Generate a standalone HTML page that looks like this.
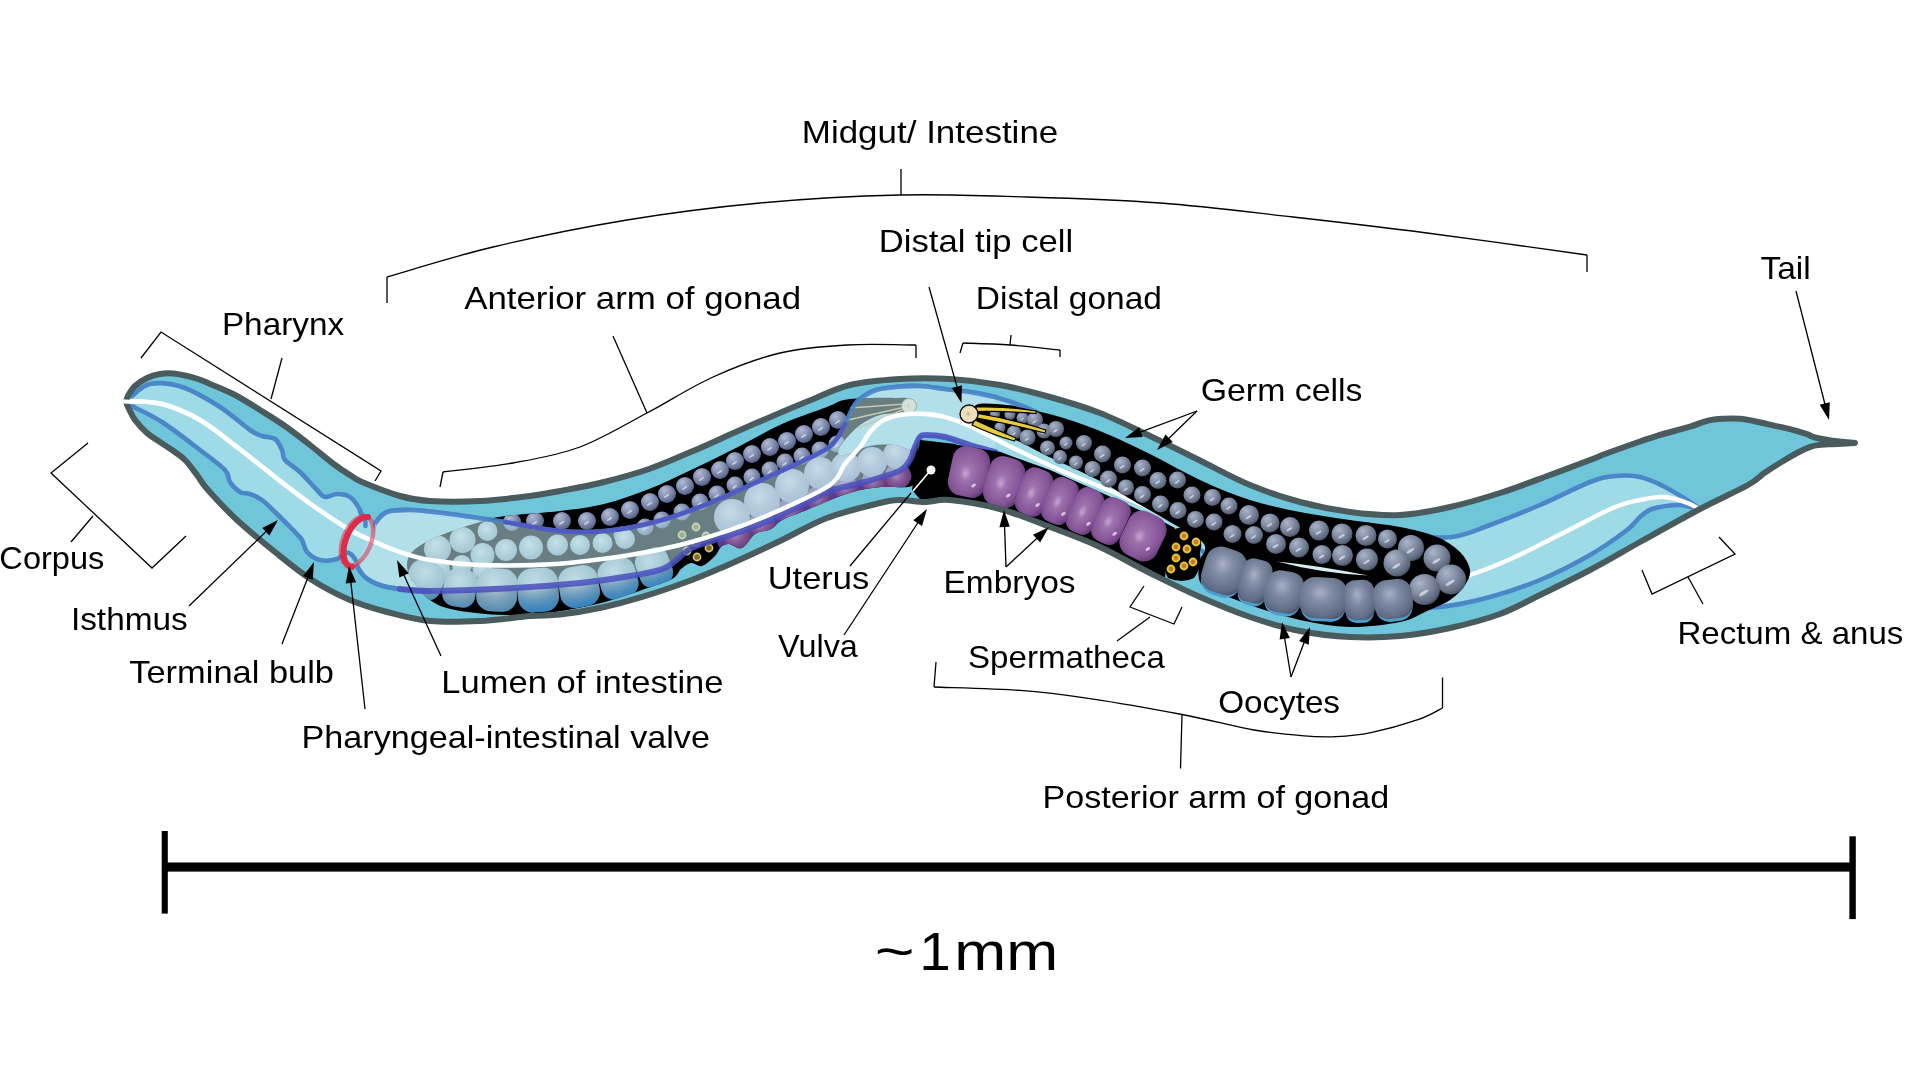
<!DOCTYPE html>
<html><head><meta charset="utf-8"><title>C. elegans anatomy</title>
<style>
html,body{margin:0;padding:0;background:#fff;}
body{width:1920px;height:1080px;overflow:hidden;}
svg{display:block;filter:blur(0.45px);}
text{font-family:"Liberation Sans",sans-serif;fill:#000;}
</style></head><body>
<svg width="1920" height="1080" viewBox="0 0 1920 1080">
<defs>
<radialGradient id="gGerm" cx="0.4" cy="0.36" r="0.72" fx="0.34" fy="0.28">
<stop offset="0" stop-color="#aab5ca"/><stop offset="0.45" stop-color="#828ea6"/><stop offset="0.8" stop-color="#5f6a7e"/><stop offset="1" stop-color="#3c4556"/></radialGradient>
<radialGradient id="gGermA" cx="0.4" cy="0.36" r="0.72" fx="0.34" fy="0.28">
<stop offset="0" stop-color="#b2bcd6"/><stop offset="0.45" stop-color="#8894b6"/><stop offset="0.8" stop-color="#626e92"/><stop offset="1" stop-color="#3c4664"/></radialGradient>
<radialGradient id="gOoP" cx="0.45" cy="0.4" r="0.7" fx="0.42" fy="0.36">
<stop offset="0" stop-color="#a7b1c6"/><stop offset="0.35" stop-color="#7f8aa3"/><stop offset="0.8" stop-color="#616c86"/><stop offset="1" stop-color="#454e66"/></radialGradient>
<radialGradient id="gOoA" cx="0.45" cy="0.4" r="0.7" fx="0.42" fy="0.36">
<stop offset="0" stop-color="#cfdde3"/><stop offset="0.4" stop-color="#a9c0cb"/><stop offset="0.85" stop-color="#86a1b0"/><stop offset="1" stop-color="#6b8796"/></radialGradient>
<linearGradient id="gBlueBot" x1="0" y1="0" x2="0" y2="1">
<stop offset="0.45" stop-color="#2f86c4" stop-opacity="0"/><stop offset="1" stop-color="#2a80c2" stop-opacity="0.85"/></linearGradient>
<radialGradient id="gOoA2" cx="0.45" cy="0.35" r="0.75" fx="0.42" fy="0.3">
<stop offset="0" stop-color="#c2d2dc"/><stop offset="0.4" stop-color="#9ab3c2"/><stop offset="0.85" stop-color="#6f94ad"/><stop offset="1" stop-color="#4f86ab"/></radialGradient>
<radialGradient id="gLil" cx="0.45" cy="0.4" r="0.7" fx="0.42" fy="0.36">
<stop offset="0" stop-color="#ccd0e4"/><stop offset="0.45" stop-color="#a9aecb"/><stop offset="0.85" stop-color="#8f93b8"/><stop offset="1" stop-color="#7a7ca6"/></radialGradient>
<radialGradient id="gEmb" cx="0.45" cy="0.45" r="0.7" fx="0.42" fy="0.55">
<stop offset="0" stop-color="#c7a5d2"/><stop offset="0.22" stop-color="#9d72ac"/><stop offset="0.7" stop-color="#835397"/><stop offset="1" stop-color="#57306a"/></radialGradient>
<radialGradient id="gEmbA" cx="0.45" cy="0.45" r="0.7" fx="0.42" fy="0.5">
<stop offset="0" stop-color="#a886b8"/><stop offset="0.4" stop-color="#855a98"/><stop offset="1" stop-color="#5a2f6c"/></radialGradient>
<radialGradient id="gTip" cx="0.45" cy="0.5" r="0.6">
<stop offset="0" stop-color="#c9a98a"/><stop offset="0.25" stop-color="#ecdcb9"/><stop offset="1" stop-color="#efe2c2"/></radialGradient>
<linearGradient id="gInt" x1="0" y1="0" x2="1" y2="0">
<stop offset="0" stop-color="#8fd4e3"/><stop offset="0.5" stop-color="#a6dde9"/><stop offset="1" stop-color="#8fd4e3"/></linearGradient>
<marker id="ah" viewBox="0 0 10 10" refX="9.5" refY="5" markerWidth="16" markerHeight="11" markerUnits="userSpaceOnUse" orient="auto"><path d="M0 0 L10 5 L0 10 Z" fill="#000"/></marker>
<clipPath id="bodyclip"><path d="M126.0 402.0 C126.3 401.0 126.5 398.7 128.0 396.0 C129.5 393.3 131.8 389.0 135.0 386.0 C138.2 383.0 142.8 380.0 147.0 378.0 C151.2 376.0 155.7 374.8 160.0 374.0 C164.3 373.2 168.8 373.2 173.0 373.5 C177.2 373.8 180.8 374.6 185.0 375.5 C189.2 376.4 193.8 377.6 198.0 379.0 C202.2 380.4 203.8 381.3 210.0 384.0 C216.2 386.7 226.7 390.7 235.0 395.0 C243.3 399.3 251.7 404.8 260.0 410.0 C268.3 415.2 276.7 420.2 285.0 426.0 C293.3 431.8 301.7 438.5 310.0 445.0 C318.3 451.5 328.3 460.0 335.0 465.0 C341.7 470.0 345.5 472.2 350.0 475.0 C354.5 477.8 353.7 478.5 362.0 482.0 C370.3 485.5 388.7 492.8 400.0 496.0 C411.3 499.2 416.7 500.2 430.0 501.0 C443.3 501.8 463.3 501.8 480.0 501.0 C496.7 500.2 516.7 497.7 530.0 496.0 C543.3 494.3 547.7 493.3 560.0 491.0 C572.3 488.7 589.2 485.7 604.0 482.0 C618.8 478.3 634.2 474.2 649.0 469.0 C663.8 463.8 678.2 457.3 693.0 451.0 C707.8 444.7 723.2 437.5 738.0 431.0 C752.8 424.5 769.8 417.2 782.0 412.0 C794.2 406.8 799.7 404.5 811.0 400.0 C822.3 395.5 835.2 388.5 850.0 385.0 C864.8 381.5 883.3 380.0 900.0 379.0 C916.7 378.0 933.3 378.0 950.0 379.0 C966.7 380.0 983.3 382.0 1000.0 385.0 C1016.7 388.0 1033.3 392.3 1050.0 397.0 C1066.7 401.7 1083.3 406.5 1100.0 413.0 C1116.7 419.5 1133.3 428.1 1150.0 436.0 C1166.7 443.9 1183.3 452.3 1200.0 460.5 C1216.7 468.7 1233.3 478.1 1250.0 485.0 C1266.7 491.9 1283.3 497.5 1300.0 502.0 C1316.7 506.5 1333.3 509.8 1350.0 512.0 C1366.7 514.2 1383.3 515.8 1400.0 515.0 C1416.7 514.2 1433.3 510.7 1450.0 507.0 C1466.7 503.3 1483.3 498.3 1500.0 493.0 C1516.7 487.7 1535.0 480.5 1550.0 475.0 C1565.0 469.5 1580.5 463.6 1590.0 460.0 C1599.5 456.4 1598.7 456.4 1607.0 453.3 C1615.3 450.2 1631.7 444.4 1640.0 441.5 C1648.3 438.6 1648.7 438.3 1657.0 435.8 C1665.3 433.3 1681.7 429.2 1690.0 426.7 C1698.3 424.2 1701.5 422.1 1707.0 420.8 C1712.5 419.5 1717.5 419.1 1723.0 418.8 C1728.5 418.4 1734.3 418.3 1740.0 418.8 C1745.7 419.2 1751.5 420.6 1757.0 421.7 C1762.5 422.8 1767.5 424.1 1773.0 425.4 C1778.5 426.6 1784.3 427.7 1790.0 429.2 C1795.7 430.7 1802.8 432.8 1807.0 434.2 C1811.2 435.6 1810.8 436.4 1815.0 437.5 C1819.2 438.6 1825.3 439.7 1832.0 440.6 C1838.7 441.5 1851.2 442.6 1855.0 443.0 C1851.2 443.2 1838.0 443.9 1832.0 444.2 C1826.0 444.5 1822.5 444.6 1819.0 445.0 C1815.5 445.4 1814.5 445.4 1811.0 446.7 C1807.5 447.9 1802.8 450.0 1798.0 452.5 C1793.2 455.0 1787.5 458.4 1782.0 461.7 C1776.5 465.0 1770.7 468.6 1765.0 472.5 C1759.3 476.4 1758.8 478.9 1748.0 485.0 C1737.2 491.1 1718.0 499.5 1700.0 509.0 C1682.0 518.5 1658.3 531.8 1640.0 542.0 C1621.7 552.2 1606.7 561.2 1590.0 570.0 C1573.3 578.8 1555.0 587.7 1540.0 595.0 C1525.0 602.3 1515.0 608.5 1500.0 614.0 C1485.0 619.5 1466.7 624.3 1450.0 628.0 C1433.3 631.7 1416.7 634.5 1400.0 636.0 C1383.3 637.5 1366.7 637.8 1350.0 637.0 C1333.3 636.2 1316.7 634.3 1300.0 631.0 C1283.3 627.7 1266.7 622.7 1250.0 617.0 C1233.3 611.3 1216.7 604.3 1200.0 597.0 C1183.3 589.7 1166.7 581.3 1150.0 573.0 C1133.3 564.7 1116.7 554.7 1100.0 547.0 C1083.3 539.3 1066.7 533.3 1050.0 527.0 C1033.3 520.7 1016.7 513.5 1000.0 509.0 C983.3 504.5 962.5 501.2 950.0 500.0 C937.5 498.8 933.3 502.0 925.0 502.0 C916.7 502.0 907.5 499.8 900.0 500.0 C892.5 500.2 892.2 500.0 880.0 503.0 C867.8 506.0 843.3 511.8 827.0 518.0 C810.7 524.2 796.8 532.9 782.0 540.0 C767.2 547.1 748.3 555.8 738.0 560.5 C727.7 565.2 728.8 564.6 720.0 568.3 C711.2 572.0 697.8 577.8 685.0 582.5 C672.2 587.2 656.8 592.5 643.0 596.7 C629.2 600.9 615.8 604.5 602.0 607.5 C588.2 610.5 572.0 613.1 560.0 614.5 C548.0 615.9 543.3 614.9 530.0 616.0 C516.7 617.1 496.7 620.2 480.0 621.0 C463.3 621.8 445.5 622.5 430.0 621.0 C414.5 619.5 400.3 615.5 387.0 612.0 C373.7 608.5 362.5 605.3 350.0 600.0 C337.5 594.7 324.5 588.0 312.0 580.0 C299.5 572.0 287.5 562.0 275.0 552.0 C262.5 542.0 248.2 530.3 237.0 520.0 C225.8 509.7 214.7 497.5 208.0 490.0 C201.3 482.5 200.8 480.0 197.0 475.0 C193.2 470.0 189.2 464.2 185.0 460.0 C180.8 455.8 176.2 453.0 172.0 450.0 C167.8 447.0 164.2 444.8 160.0 442.0 C155.8 439.2 151.2 436.7 147.0 433.0 C142.8 429.3 138.0 424.0 135.0 420.0 C132.0 416.0 130.5 412.0 129.0 409.0 C127.5 406.0 126.5 403.2 126.0 402.0Z"/></clipPath>
</defs>
<rect width="1920" height="1080" fill="#fff"/>

<path d="M126.0 402.0 C126.3 401.0 126.5 398.7 128.0 396.0 C129.5 393.3 131.8 389.0 135.0 386.0 C138.2 383.0 142.8 380.0 147.0 378.0 C151.2 376.0 155.7 374.8 160.0 374.0 C164.3 373.2 168.8 373.2 173.0 373.5 C177.2 373.8 180.8 374.6 185.0 375.5 C189.2 376.4 193.8 377.6 198.0 379.0 C202.2 380.4 203.8 381.3 210.0 384.0 C216.2 386.7 226.7 390.7 235.0 395.0 C243.3 399.3 251.7 404.8 260.0 410.0 C268.3 415.2 276.7 420.2 285.0 426.0 C293.3 431.8 301.7 438.5 310.0 445.0 C318.3 451.5 328.3 460.0 335.0 465.0 C341.7 470.0 345.5 472.2 350.0 475.0 C354.5 477.8 353.7 478.5 362.0 482.0 C370.3 485.5 388.7 492.8 400.0 496.0 C411.3 499.2 416.7 500.2 430.0 501.0 C443.3 501.8 463.3 501.8 480.0 501.0 C496.7 500.2 516.7 497.7 530.0 496.0 C543.3 494.3 547.7 493.3 560.0 491.0 C572.3 488.7 589.2 485.7 604.0 482.0 C618.8 478.3 634.2 474.2 649.0 469.0 C663.8 463.8 678.2 457.3 693.0 451.0 C707.8 444.7 723.2 437.5 738.0 431.0 C752.8 424.5 769.8 417.2 782.0 412.0 C794.2 406.8 799.7 404.5 811.0 400.0 C822.3 395.5 835.2 388.5 850.0 385.0 C864.8 381.5 883.3 380.0 900.0 379.0 C916.7 378.0 933.3 378.0 950.0 379.0 C966.7 380.0 983.3 382.0 1000.0 385.0 C1016.7 388.0 1033.3 392.3 1050.0 397.0 C1066.7 401.7 1083.3 406.5 1100.0 413.0 C1116.7 419.5 1133.3 428.1 1150.0 436.0 C1166.7 443.9 1183.3 452.3 1200.0 460.5 C1216.7 468.7 1233.3 478.1 1250.0 485.0 C1266.7 491.9 1283.3 497.5 1300.0 502.0 C1316.7 506.5 1333.3 509.8 1350.0 512.0 C1366.7 514.2 1383.3 515.8 1400.0 515.0 C1416.7 514.2 1433.3 510.7 1450.0 507.0 C1466.7 503.3 1483.3 498.3 1500.0 493.0 C1516.7 487.7 1535.0 480.5 1550.0 475.0 C1565.0 469.5 1580.5 463.6 1590.0 460.0 C1599.5 456.4 1598.7 456.4 1607.0 453.3 C1615.3 450.2 1631.7 444.4 1640.0 441.5 C1648.3 438.6 1648.7 438.3 1657.0 435.8 C1665.3 433.3 1681.7 429.2 1690.0 426.7 C1698.3 424.2 1701.5 422.1 1707.0 420.8 C1712.5 419.5 1717.5 419.1 1723.0 418.8 C1728.5 418.4 1734.3 418.3 1740.0 418.8 C1745.7 419.2 1751.5 420.6 1757.0 421.7 C1762.5 422.8 1767.5 424.1 1773.0 425.4 C1778.5 426.6 1784.3 427.7 1790.0 429.2 C1795.7 430.7 1802.8 432.8 1807.0 434.2 C1811.2 435.6 1810.8 436.4 1815.0 437.5 C1819.2 438.6 1825.3 439.7 1832.0 440.6 C1838.7 441.5 1851.2 442.6 1855.0 443.0 C1851.2 443.2 1838.0 443.9 1832.0 444.2 C1826.0 444.5 1822.5 444.6 1819.0 445.0 C1815.5 445.4 1814.5 445.4 1811.0 446.7 C1807.5 447.9 1802.8 450.0 1798.0 452.5 C1793.2 455.0 1787.5 458.4 1782.0 461.7 C1776.5 465.0 1770.7 468.6 1765.0 472.5 C1759.3 476.4 1758.8 478.9 1748.0 485.0 C1737.2 491.1 1718.0 499.5 1700.0 509.0 C1682.0 518.5 1658.3 531.8 1640.0 542.0 C1621.7 552.2 1606.7 561.2 1590.0 570.0 C1573.3 578.8 1555.0 587.7 1540.0 595.0 C1525.0 602.3 1515.0 608.5 1500.0 614.0 C1485.0 619.5 1466.7 624.3 1450.0 628.0 C1433.3 631.7 1416.7 634.5 1400.0 636.0 C1383.3 637.5 1366.7 637.8 1350.0 637.0 C1333.3 636.2 1316.7 634.3 1300.0 631.0 C1283.3 627.7 1266.7 622.7 1250.0 617.0 C1233.3 611.3 1216.7 604.3 1200.0 597.0 C1183.3 589.7 1166.7 581.3 1150.0 573.0 C1133.3 564.7 1116.7 554.7 1100.0 547.0 C1083.3 539.3 1066.7 533.3 1050.0 527.0 C1033.3 520.7 1016.7 513.5 1000.0 509.0 C983.3 504.5 962.5 501.2 950.0 500.0 C937.5 498.8 933.3 502.0 925.0 502.0 C916.7 502.0 907.5 499.8 900.0 500.0 C892.5 500.2 892.2 500.0 880.0 503.0 C867.8 506.0 843.3 511.8 827.0 518.0 C810.7 524.2 796.8 532.9 782.0 540.0 C767.2 547.1 748.3 555.8 738.0 560.5 C727.7 565.2 728.8 564.6 720.0 568.3 C711.2 572.0 697.8 577.8 685.0 582.5 C672.2 587.2 656.8 592.5 643.0 596.7 C629.2 600.9 615.8 604.5 602.0 607.5 C588.2 610.5 572.0 613.1 560.0 614.5 C548.0 615.9 543.3 614.9 530.0 616.0 C516.7 617.1 496.7 620.2 480.0 621.0 C463.3 621.8 445.5 622.5 430.0 621.0 C414.5 619.5 400.3 615.5 387.0 612.0 C373.7 608.5 362.5 605.3 350.0 600.0 C337.5 594.7 324.5 588.0 312.0 580.0 C299.5 572.0 287.5 562.0 275.0 552.0 C262.5 542.0 248.2 530.3 237.0 520.0 C225.8 509.7 214.7 497.5 208.0 490.0 C201.3 482.5 200.8 480.0 197.0 475.0 C193.2 470.0 189.2 464.2 185.0 460.0 C180.8 455.8 176.2 453.0 172.0 450.0 C167.8 447.0 164.2 444.8 160.0 442.0 C155.8 439.2 151.2 436.7 147.0 433.0 C142.8 429.3 138.0 424.0 135.0 420.0 C132.0 416.0 130.5 412.0 129.0 409.0 C127.5 406.0 126.5 403.2 126.0 402.0Z" fill="#6fc6db"/>
<g clip-path="url(#bodyclip)">
<path d="M132.0 396.0 C135.0 394.0 141.7 385.5 150.0 384.0 C158.3 382.5 170.3 383.2 182.0 387.0 C193.7 390.8 208.7 399.8 220.0 407.0 C231.3 414.2 243.0 425.2 250.0 430.0 C257.0 434.8 257.8 434.5 262.0 436.0 C266.2 437.5 271.7 436.7 275.0 439.0 C278.3 441.3 280.3 446.5 282.0 450.0 C283.7 453.5 282.0 456.3 285.0 460.0 C288.0 463.7 294.7 467.0 300.0 472.0 C305.3 477.0 312.8 485.8 317.0 490.0 C321.2 494.2 321.7 496.3 325.0 497.0 C328.3 497.7 332.8 494.0 337.0 494.0 C341.2 494.0 346.2 494.3 350.0 497.0 C353.8 499.7 358.0 506.2 360.0 510.0 C362.0 513.8 361.7 518.3 362.0 520.0 L352 557 C351.2 556.2 349.5 551.7 347.0 552.0 C344.5 552.3 341.5 557.7 337.0 559.0 C332.5 560.3 325.0 561.2 320.0 560.0 C315.0 558.8 310.0 555.3 307.0 552.0 C304.0 548.7 304.0 543.3 302.0 540.0 C300.0 536.7 299.5 536.7 295.0 532.0 C290.5 527.3 280.5 517.3 275.0 512.0 C269.5 506.7 266.2 503.0 262.0 500.0 C257.8 497.0 253.7 495.3 250.0 494.0 C246.3 492.7 243.3 494.0 240.0 492.0 C236.7 490.0 232.5 485.7 230.0 482.0 C227.5 478.3 230.0 475.3 225.0 470.0 C220.0 464.7 210.5 458.0 200.0 450.0 C189.5 442.0 173.3 429.3 162.0 422.0 C150.7 414.7 137.0 408.7 132.0 406.0Z" fill="#9fdae7"/>
<path d="M132.0 396.0 C135.0 394.0 141.7 385.5 150.0 384.0 C158.3 382.5 170.3 383.2 182.0 387.0 C193.7 390.8 208.7 399.8 220.0 407.0 C231.3 414.2 243.0 425.2 250.0 430.0 C257.0 434.8 257.8 434.5 262.0 436.0 C266.2 437.5 271.7 436.7 275.0 439.0 C278.3 441.3 280.3 446.5 282.0 450.0 C283.7 453.5 282.0 456.3 285.0 460.0 C288.0 463.7 294.7 467.0 300.0 472.0 C305.3 477.0 312.8 485.8 317.0 490.0 C321.2 494.2 321.7 496.3 325.0 497.0 C328.3 497.7 332.8 494.0 337.0 494.0 C341.2 494.0 346.2 494.3 350.0 497.0 C353.8 499.7 358.0 506.2 360.0 510.0 C362.0 513.8 361.7 518.3 362.0 520.0" fill="none" stroke="#4a86c8" stroke-width="4.6" stroke-linecap="round" stroke-linejoin="round" />
<path d="M132.0 406.0 C137.0 408.7 150.7 414.7 162.0 422.0 C173.3 429.3 189.5 442.0 200.0 450.0 C210.5 458.0 220.0 464.7 225.0 470.0 C230.0 475.3 227.5 478.3 230.0 482.0 C232.5 485.7 236.7 490.0 240.0 492.0 C243.3 494.0 246.3 492.7 250.0 494.0 C253.7 495.3 257.8 497.0 262.0 500.0 C266.2 503.0 269.5 506.7 275.0 512.0 C280.5 517.3 290.5 527.3 295.0 532.0 C299.5 536.7 300.0 536.7 302.0 540.0 C304.0 543.3 304.0 548.7 307.0 552.0 C310.0 555.3 315.0 558.8 320.0 560.0 C325.0 561.2 332.5 560.3 337.0 559.0 C341.5 557.7 344.5 552.3 347.0 552.0 C349.5 551.7 351.2 556.2 352.0 557.0" fill="none" stroke="#4a86c8" stroke-width="4.6" stroke-linecap="round" stroke-linejoin="round" />
<path d="M376.0 522.0 C377.8 520.3 381.0 514.0 387.0 512.0 C393.0 510.0 401.5 509.7 412.0 510.0 C422.5 510.3 434.5 512.0 450.0 514.0 C465.5 516.0 486.7 519.2 505.0 522.0 C523.3 524.8 543.3 529.5 560.0 531.0 C576.7 532.5 589.2 532.5 605.0 531.0 C620.8 529.5 638.3 526.3 655.0 522.0 C671.7 517.7 688.3 511.5 705.0 505.0 C721.7 498.5 738.3 490.5 755.0 483.0 C771.7 475.5 792.8 465.8 805.0 460.0 C817.2 454.2 822.5 451.8 828.0 448.0 C833.5 444.2 835.2 441.0 838.0 437.0 C840.8 433.0 842.2 429.5 845.0 424.0 C847.8 418.5 851.8 408.7 855.0 404.0 C858.2 399.3 860.5 398.3 864.0 396.0 C867.5 393.7 870.8 391.5 876.0 390.0 C881.2 388.5 887.7 387.7 895.0 387.0 C902.3 386.3 911.7 385.7 920.0 386.0 C928.3 386.3 936.7 388.0 945.0 389.0 C953.3 390.0 961.7 390.7 970.0 392.0 C978.3 393.3 985.0 394.2 995.0 397.0 C1005.0 399.8 1019.2 404.5 1030.0 409.0 C1040.8 413.5 1048.3 418.8 1060.0 424.0 C1071.7 429.2 1085.0 433.5 1100.0 440.0 C1115.0 446.5 1133.3 455.0 1150.0 463.0 C1166.7 471.0 1183.3 480.3 1200.0 488.0 C1216.7 495.7 1233.3 503.3 1250.0 509.0 C1266.7 514.7 1283.3 518.3 1300.0 522.0 C1316.7 525.7 1333.3 528.7 1350.0 531.0 C1366.7 533.3 1383.0 535.0 1400.0 536.0 C1417.0 537.0 1437.0 538.8 1452.0 537.0 C1467.0 535.2 1475.3 530.3 1490.0 525.0 C1504.7 519.7 1523.3 512.2 1540.0 505.0 C1556.7 497.8 1577.5 486.8 1590.0 482.0 C1602.5 477.2 1606.7 476.8 1615.0 476.0 C1623.3 475.2 1631.7 475.2 1640.0 477.0 C1648.3 478.8 1656.7 482.8 1665.0 487.0 C1673.3 491.2 1683.8 498.0 1690.0 502.0 C1696.2 506.0 1700.0 509.5 1702.0 511.0 C1702.0 511.0 1704.0 511.7 1702.0 511.0 C1700.0 510.3 1694.2 508.0 1690.0 507.0 C1685.8 506.0 1683.3 504.7 1677.0 505.0 C1670.7 505.3 1658.2 507.0 1652.0 509.0 C1645.8 511.0 1644.2 513.5 1640.0 517.0 C1635.8 520.5 1635.3 523.7 1627.0 530.0 C1618.7 536.3 1604.5 546.7 1590.0 555.0 C1575.5 563.3 1556.7 573.0 1540.0 580.0 C1523.3 587.0 1506.7 592.5 1490.0 597.0 C1473.3 601.5 1455.0 605.3 1440.0 607.0 C1425.0 608.7 1415.0 607.7 1400.0 607.0 C1385.0 606.3 1366.7 605.5 1350.0 603.0 C1333.3 600.5 1316.7 596.7 1300.0 592.0 C1283.3 587.3 1266.7 582.0 1250.0 575.0 C1233.3 568.0 1216.7 558.8 1200.0 550.0 C1183.3 541.2 1166.7 530.8 1150.0 522.0 C1133.3 513.2 1116.7 504.8 1100.0 497.0 C1083.3 489.2 1067.5 482.5 1050.0 475.0 C1032.5 467.5 1008.3 457.0 995.0 452.0 C981.7 447.0 978.3 447.5 970.0 445.0 C961.7 442.5 952.3 438.7 945.0 437.0 C937.7 435.3 930.2 435.0 926.0 435.0 C921.8 435.0 921.8 435.0 920.0 437.0 C918.2 439.0 916.7 443.2 915.0 447.0 C913.3 450.8 912.3 456.2 910.0 460.0 C907.7 463.8 905.7 467.2 901.0 470.0 C896.3 472.8 889.3 474.7 882.0 477.0 C874.7 479.3 865.7 481.7 857.0 484.0 C848.3 486.3 838.7 487.8 830.0 491.0 C821.3 494.2 814.2 499.0 805.0 503.5 C795.8 508.0 785.0 513.6 775.0 518.0 C765.0 522.4 755.0 526.3 745.0 530.0 C735.0 533.7 724.2 536.8 715.0 540.0 C705.8 543.2 698.3 544.3 690.0 549.0 C681.7 553.7 675.0 563.5 665.0 568.0 C655.0 572.5 644.2 573.5 630.0 576.0 C615.8 578.5 600.8 580.9 580.0 583.0 C559.2 585.1 530.0 587.2 505.0 588.5 C480.0 589.8 447.5 590.9 430.0 591.0 C412.5 591.1 408.3 590.0 400.0 589.0 C391.7 588.0 385.8 587.0 380.0 585.0 C374.2 583.0 368.8 580.2 365.0 577.0 C361.2 573.8 358.3 567.8 357.0 566.0Z" fill="#9fdae7" stroke="#4a86c8" stroke-width="4.6" stroke-linejoin="round"/>
<ellipse cx="357" cy="541" rx="14" ry="26" fill="#9fdae7" transform="rotate(22 357 541)"/>
<path d="M360 512 Q366.5 519 365.5 526 M346.5 552.5 Q352 553 355.5 560" fill="none" stroke="#4a86c8" stroke-width="4.6" stroke-linecap="round"/>
<path d="M124.0 401.0 C130.3 401.5 149.3 400.8 162.0 404.0 C174.7 407.2 187.5 412.8 200.0 420.0 C212.5 427.2 224.5 437.5 237.0 447.0 C249.5 456.5 262.5 467.3 275.0 477.0 C287.5 486.7 299.5 496.2 312.0 505.0 C324.5 513.8 339.5 523.8 350.0 530.0 C360.5 536.2 366.7 538.3 375.0 542.0 C383.3 545.7 390.8 549.0 400.0 552.0 C409.2 555.0 416.7 557.8 430.0 560.0 C443.3 562.2 459.2 564.3 480.0 565.0 C500.8 565.7 530.0 565.7 555.0 564.0 C580.0 562.3 609.2 558.2 630.0 555.0 C650.8 551.8 663.3 549.2 680.0 545.0 C696.7 540.8 713.3 535.8 730.0 530.0 C746.7 524.2 763.3 517.5 780.0 510.0 C796.7 502.5 819.2 492.7 830.0 485.0 C840.8 477.3 840.0 470.3 845.0 464.0 C850.0 457.7 855.8 452.3 860.0 447.0 C864.2 441.7 866.3 436.3 870.0 432.0 C873.7 427.7 877.8 423.7 882.0 421.0 C886.2 418.3 890.8 417.2 895.0 416.0 C899.2 414.8 901.8 414.3 907.0 414.0 C912.2 413.7 919.7 413.5 926.0 414.0 C932.3 414.5 937.7 415.0 945.0 417.0 C952.3 419.0 959.7 421.3 970.0 426.0 C980.3 430.7 992.0 437.7 1007.0 445.0 C1022.0 452.3 1040.3 461.3 1060.0 470.0 C1079.7 478.7 1105.8 488.5 1125.0 497.0 C1144.2 505.5 1161.3 513.5 1175.0 521.0 C1188.7 528.5 1190.3 534.7 1207.0 542.0 C1223.7 549.3 1249.2 558.7 1275.0 565.0 C1300.8 571.3 1337.8 576.2 1362.0 580.0 C1386.2 583.8 1402.0 588.8 1420.0 588.0 C1438.0 587.2 1454.2 580.2 1470.0 575.0 C1485.8 569.8 1499.2 564.2 1515.0 557.0 C1530.8 549.8 1548.3 540.3 1565.0 532.0 C1581.7 523.7 1602.5 512.3 1615.0 507.0 C1627.5 501.7 1631.7 501.7 1640.0 500.0 C1648.3 498.3 1656.7 496.3 1665.0 497.0 C1673.3 497.7 1683.8 501.5 1690.0 504.0 C1696.2 506.5 1700.0 510.7 1702.0 512.0" fill="none" stroke="#fff" stroke-width="4.4" stroke-linecap="round" stroke-linejoin="round" />
<path d="M909.0 399.0 C906.2 397.0 901.5 398.2 895.0 398.0 C888.5 397.8 878.5 397.7 870.0 398.0 C861.5 398.3 851.2 398.5 844.0 400.0 C836.8 401.5 837.3 403.0 827.0 407.0 C816.7 411.0 796.8 417.3 782.0 424.0 C767.2 430.7 752.8 439.5 738.0 447.0 C723.2 454.5 707.8 462.0 693.0 469.0 C678.2 476.0 663.8 483.2 649.0 489.0 C634.2 494.8 618.8 500.3 604.0 504.0 C589.2 507.7 576.5 509.0 560.0 511.0 C543.5 513.0 518.3 514.2 505.0 516.0 C491.7 517.8 488.3 519.7 480.0 522.0 C471.7 524.3 463.3 527.0 455.0 530.0 C446.7 533.0 437.2 536.3 430.0 540.0 C422.8 543.7 415.8 547.8 412.0 552.0 C408.2 556.2 407.0 560.3 407.0 565.0 C407.0 569.7 408.2 574.2 412.0 580.0 C415.8 585.8 422.8 595.0 430.0 600.0 C437.2 605.0 442.5 607.5 455.0 610.0 C467.5 612.5 488.3 614.7 505.0 615.0 C521.7 615.3 538.3 614.2 555.0 612.0 C571.7 609.8 590.5 605.7 605.0 602.0 C619.5 598.3 630.8 593.8 642.0 590.0 C653.2 586.2 665.5 582.5 672.0 579.0 C678.5 575.5 677.8 571.7 681.0 569.0 C684.2 566.3 687.5 563.5 691.0 563.0 C694.5 562.5 698.0 567.2 702.0 566.0 C706.0 564.8 711.8 559.2 715.0 556.0 C718.2 552.8 718.7 549.0 721.0 547.0 C723.3 545.0 725.5 543.8 729.0 544.0 C732.5 544.2 737.7 549.7 742.0 548.0 C746.3 546.3 750.2 537.2 755.0 534.0 C759.8 530.8 766.5 531.3 771.0 529.0 C775.5 526.7 776.5 523.0 782.0 520.0 C787.5 517.0 792.8 515.5 804.0 511.0 C815.2 506.5 836.3 497.0 849.0 493.0 C861.7 489.0 869.5 488.2 880.0 487.0 C890.5 485.8 905.7 488.8 912.0 486.0 C918.3 483.2 917.0 477.3 918.0 470.0 C919.0 462.7 919.0 445.3 918.0 442.0 C917.0 438.7 915.8 449.5 912.0 450.0 C908.2 450.5 902.0 445.7 895.0 445.0 C888.0 444.3 878.3 444.3 870.0 446.0 C861.7 447.7 850.3 454.0 845.0 455.0 C839.7 456.0 838.0 454.5 838.0 452.0 C838.0 449.5 841.3 444.5 845.0 440.0 C848.7 435.5 854.2 429.2 860.0 425.0 C865.8 420.8 873.3 417.0 880.0 415.0 C886.7 413.0 894.7 413.8 900.0 413.0 C905.3 412.2 910.5 412.3 912.0 410.0 C913.5 407.7 911.8 401.0 909.0 399.0Z" fill="#000"/>
<clipPath id="antclip"><path d="M909.0 399.0 C906.2 397.0 901.5 398.2 895.0 398.0 C888.5 397.8 878.5 397.7 870.0 398.0 C861.5 398.3 851.2 398.5 844.0 400.0 C836.8 401.5 837.3 403.0 827.0 407.0 C816.7 411.0 796.8 417.3 782.0 424.0 C767.2 430.7 752.8 439.5 738.0 447.0 C723.2 454.5 707.8 462.0 693.0 469.0 C678.2 476.0 663.8 483.2 649.0 489.0 C634.2 494.8 618.8 500.3 604.0 504.0 C589.2 507.7 576.5 509.0 560.0 511.0 C543.5 513.0 518.3 514.2 505.0 516.0 C491.7 517.8 488.3 519.7 480.0 522.0 C471.7 524.3 463.3 527.0 455.0 530.0 C446.7 533.0 437.2 536.3 430.0 540.0 C422.8 543.7 415.8 547.8 412.0 552.0 C408.2 556.2 407.0 560.3 407.0 565.0 C407.0 569.7 408.2 574.2 412.0 580.0 C415.8 585.8 422.8 595.0 430.0 600.0 C437.2 605.0 442.5 607.5 455.0 610.0 C467.5 612.5 488.3 614.7 505.0 615.0 C521.7 615.3 538.3 614.2 555.0 612.0 C571.7 609.8 590.5 605.7 605.0 602.0 C619.5 598.3 630.8 593.8 642.0 590.0 C653.2 586.2 665.5 582.5 672.0 579.0 C678.5 575.5 677.8 571.7 681.0 569.0 C684.2 566.3 687.5 563.5 691.0 563.0 C694.5 562.5 698.0 567.2 702.0 566.0 C706.0 564.8 711.8 559.2 715.0 556.0 C718.2 552.8 718.7 549.0 721.0 547.0 C723.3 545.0 725.5 543.8 729.0 544.0 C732.5 544.2 737.7 549.7 742.0 548.0 C746.3 546.3 750.2 537.2 755.0 534.0 C759.8 530.8 766.5 531.3 771.0 529.0 C775.5 526.7 776.5 523.0 782.0 520.0 C787.5 517.0 792.8 515.5 804.0 511.0 C815.2 506.5 836.3 497.0 849.0 493.0 C861.7 489.0 869.5 488.2 880.0 487.0 C890.5 485.8 905.7 488.8 912.0 486.0 C918.3 483.2 917.0 477.3 918.0 470.0 C919.0 462.7 919.0 445.3 918.0 442.0 C917.0 438.7 915.8 449.5 912.0 450.0 C908.2 450.5 902.0 445.7 895.0 445.0 C888.0 444.3 878.3 444.3 870.0 446.0 C861.7 447.7 850.3 454.0 845.0 455.0 C839.7 456.0 838.0 454.5 838.0 452.0 C838.0 449.5 841.3 444.5 845.0 440.0 C848.7 435.5 854.2 429.2 860.0 425.0 C865.8 420.8 873.3 417.0 880.0 415.0 C886.7 413.0 894.7 413.8 900.0 413.0 C905.3 412.2 910.5 412.3 912.0 410.0 C913.5 407.7 911.8 401.0 909.0 399.0Z"/></clipPath><g clip-path="url(#antclip)">
<circle cx="512.0" cy="522.0" r="9.0" fill="url(#gGermA)" />
<ellipse cx="511.6" cy="524.0" rx="3.1" ry="0.9" fill="#e6ebf7" fill-opacity="0.7" transform="rotate(-32 511.6 524.0)"/>
<circle cx="535.0" cy="521.0" r="9.0" fill="url(#gGermA)" />
<ellipse cx="534.5" cy="523.0" rx="3.1" ry="0.9" fill="#e6ebf7" fill-opacity="0.7" transform="rotate(-32 534.5 523.0)"/>
<circle cx="562.0" cy="521.0" r="9.0" fill="url(#gGermA)" />
<ellipse cx="561.5" cy="523.0" rx="3.1" ry="0.9" fill="#e6ebf7" fill-opacity="0.7" transform="rotate(-32 561.5 523.0)"/>
<circle cx="587.0" cy="521.0" r="9.0" fill="url(#gGermA)" />
<ellipse cx="586.5" cy="523.0" rx="3.1" ry="0.9" fill="#e6ebf7" fill-opacity="0.7" transform="rotate(-32 586.5 523.0)"/>
<circle cx="610.0" cy="517.0" r="9.0" fill="url(#gGermA)" />
<ellipse cx="609.5" cy="519.0" rx="3.1" ry="0.9" fill="#e6ebf7" fill-opacity="0.7" transform="rotate(-32 609.5 519.0)"/>
<circle cx="630.0" cy="510.0" r="9.0" fill="url(#gGermA)" />
<ellipse cx="629.5" cy="512.0" rx="3.1" ry="0.9" fill="#e6ebf7" fill-opacity="0.7" transform="rotate(-32 629.5 512.0)"/>
<circle cx="650.0" cy="502.0" r="9.0" fill="url(#gGermA)" />
<ellipse cx="649.5" cy="504.0" rx="3.1" ry="0.9" fill="#e6ebf7" fill-opacity="0.7" transform="rotate(-32 649.5 504.0)"/>
<circle cx="667.0" cy="494.0" r="9.0" fill="url(#gGermA)" />
<ellipse cx="666.5" cy="496.0" rx="3.1" ry="0.9" fill="#e6ebf7" fill-opacity="0.7" transform="rotate(-32 666.5 496.0)"/>
<circle cx="685.0" cy="486.0" r="9.0" fill="url(#gGermA)" />
<ellipse cx="684.5" cy="488.0" rx="3.1" ry="0.9" fill="#e6ebf7" fill-opacity="0.7" transform="rotate(-32 684.5 488.0)"/>
<circle cx="702.0" cy="477.0" r="9.0" fill="url(#gGermA)" />
<ellipse cx="701.5" cy="479.0" rx="3.1" ry="0.9" fill="#e6ebf7" fill-opacity="0.7" transform="rotate(-32 701.5 479.0)"/>
<circle cx="720.0" cy="470.0" r="9.0" fill="url(#gGermA)" />
<ellipse cx="719.5" cy="472.0" rx="3.1" ry="0.9" fill="#e6ebf7" fill-opacity="0.7" transform="rotate(-32 719.5 472.0)"/>
<circle cx="735.0" cy="461.0" r="9.0" fill="url(#gGermA)" />
<ellipse cx="734.5" cy="463.0" rx="3.1" ry="0.9" fill="#e6ebf7" fill-opacity="0.7" transform="rotate(-32 734.5 463.0)"/>
<circle cx="752.0" cy="454.0" r="9.0" fill="url(#gGermA)" />
<ellipse cx="751.5" cy="456.0" rx="3.1" ry="0.9" fill="#e6ebf7" fill-opacity="0.7" transform="rotate(-32 751.5 456.0)"/>
<circle cx="770.0" cy="447.0" r="9.0" fill="url(#gGermA)" />
<ellipse cx="769.5" cy="449.0" rx="3.1" ry="0.9" fill="#e6ebf7" fill-opacity="0.7" transform="rotate(-32 769.5 449.0)"/>
<circle cx="787.0" cy="441.0" r="9.0" fill="url(#gGermA)" />
<ellipse cx="786.5" cy="443.0" rx="3.1" ry="0.9" fill="#e6ebf7" fill-opacity="0.7" transform="rotate(-32 786.5 443.0)"/>
<circle cx="804.0" cy="434.0" r="9.0" fill="url(#gGermA)" />
<ellipse cx="803.5" cy="436.0" rx="3.1" ry="0.9" fill="#e6ebf7" fill-opacity="0.7" transform="rotate(-32 803.5 436.0)"/>
<circle cx="821.0" cy="427.0" r="9.0" fill="url(#gGermA)" />
<ellipse cx="820.5" cy="429.0" rx="3.1" ry="0.9" fill="#e6ebf7" fill-opacity="0.7" transform="rotate(-32 820.5 429.0)"/>
<circle cx="838.0" cy="420.0" r="9.0" fill="url(#gGermA)" />
<ellipse cx="837.5" cy="422.0" rx="3.1" ry="0.9" fill="#e6ebf7" fill-opacity="0.7" transform="rotate(-32 837.5 422.0)"/>
<circle cx="622.0" cy="535.0" r="8.5" fill="url(#gGermA)" />
<ellipse cx="621.6" cy="536.9" rx="2.9" ry="0.9" fill="#e6ebf7" fill-opacity="0.7" transform="rotate(-32 621.6 536.9)"/>
<circle cx="645.0" cy="527.0" r="8.5" fill="url(#gGermA)" />
<ellipse cx="644.6" cy="528.9" rx="2.9" ry="0.9" fill="#e6ebf7" fill-opacity="0.7" transform="rotate(-32 644.6 528.9)"/>
<circle cx="662.0" cy="520.0" r="8.5" fill="url(#gGermA)" />
<ellipse cx="661.6" cy="521.9" rx="2.9" ry="0.9" fill="#e6ebf7" fill-opacity="0.7" transform="rotate(-32 661.6 521.9)"/>
<circle cx="682.0" cy="512.0" r="8.5" fill="url(#gGermA)" />
<ellipse cx="681.6" cy="513.9" rx="2.9" ry="0.9" fill="#e6ebf7" fill-opacity="0.7" transform="rotate(-32 681.6 513.9)"/>
<circle cx="700.0" cy="502.0" r="8.5" fill="url(#gGermA)" />
<ellipse cx="699.6" cy="503.9" rx="2.9" ry="0.9" fill="#e6ebf7" fill-opacity="0.7" transform="rotate(-32 699.6 503.9)"/>
<circle cx="717.0" cy="494.0" r="8.5" fill="url(#gGermA)" />
<ellipse cx="716.6" cy="495.9" rx="2.9" ry="0.9" fill="#e6ebf7" fill-opacity="0.7" transform="rotate(-32 716.6 495.9)"/>
<circle cx="735.0" cy="485.0" r="8.5" fill="url(#gGermA)" />
<ellipse cx="734.6" cy="486.9" rx="2.9" ry="0.9" fill="#e6ebf7" fill-opacity="0.7" transform="rotate(-32 734.6 486.9)"/>
<circle cx="752.0" cy="477.0" r="8.5" fill="url(#gGermA)" />
<ellipse cx="751.6" cy="478.9" rx="2.9" ry="0.9" fill="#e6ebf7" fill-opacity="0.7" transform="rotate(-32 751.6 478.9)"/>
<circle cx="770.0" cy="470.0" r="8.5" fill="url(#gGermA)" />
<ellipse cx="769.6" cy="471.9" rx="2.9" ry="0.9" fill="#e6ebf7" fill-opacity="0.7" transform="rotate(-32 769.6 471.9)"/>
<circle cx="785.0" cy="462.0" r="8.5" fill="url(#gGermA)" />
<ellipse cx="784.6" cy="463.9" rx="2.9" ry="0.9" fill="#e6ebf7" fill-opacity="0.7" transform="rotate(-32 784.6 463.9)"/>
<circle cx="802.0" cy="456.0" r="8.5" fill="url(#gGermA)" />
<ellipse cx="801.6" cy="457.9" rx="2.9" ry="0.9" fill="#e6ebf7" fill-opacity="0.7" transform="rotate(-32 801.6 457.9)"/>
<circle cx="820.0" cy="450.0" r="8.5" fill="url(#gGermA)" />
<ellipse cx="819.6" cy="451.9" rx="2.9" ry="0.9" fill="#e6ebf7" fill-opacity="0.7" transform="rotate(-32 819.6 451.9)"/>
<circle cx="837.0" cy="444.0" r="8.5" fill="url(#gGermA)" />
<ellipse cx="836.6" cy="445.9" rx="2.9" ry="0.9" fill="#e6ebf7" fill-opacity="0.7" transform="rotate(-32 836.6 445.9)"/>
<circle cx="437.5" cy="549.0" r="13.5" fill="url(#gOoA)" />
<circle cx="462.5" cy="540.0" r="13.0" fill="url(#gOoA)" />
<circle cx="482.5" cy="555.0" r="12.0" fill="url(#gOoA)" />
<circle cx="440.0" cy="569.0" r="10.0" fill="url(#gOoA)" />
<circle cx="462.0" cy="565.0" r="10.0" fill="url(#gOoA)" />
<circle cx="482.5" cy="569.0" r="10.0" fill="url(#gOoA)" />
<circle cx="506.0" cy="550.0" r="11.0" fill="url(#gOoA)" />
<circle cx="531.0" cy="547.5" r="12.0" fill="url(#gOoA)" />
<circle cx="557.5" cy="545.0" r="10.6" fill="url(#gOoA)" />
<circle cx="580.0" cy="545.0" r="10.0" fill="url(#gOoA)" />
<circle cx="602.5" cy="543.0" r="10.0" fill="url(#gOoA)" />
<circle cx="625.0" cy="539.0" r="10.0" fill="url(#gOoA)" />
<circle cx="487.5" cy="531.0" r="10.0" fill="url(#gOoA)" />
<rect x="406.5" y="561.0" width="37.0" height="38.0" rx="13.3" fill="url(#gOoA2)" transform="rotate(22.0 425.0 580.0)" />
<rect x="406.5" y="561.0" width="37.0" height="38.0" rx="13.3" fill="url(#gBlueBot)" transform="rotate(22.0 425.0 580.0)" opacity="0.35"/>
<rect x="443.5" y="569.0" width="33.0" height="38.0" rx="11.9" fill="url(#gOoA2)" transform="rotate(10.0 460.0 588.0)" />
<rect x="443.5" y="569.0" width="33.0" height="38.0" rx="11.9" fill="url(#gBlueBot)" transform="rotate(10.0 460.0 588.0)" opacity="0.35"/>
<rect x="476.5" y="568.5" width="41.0" height="43.0" rx="14.8" fill="url(#gOoA2)" transform="rotate(3.0 497.0 590.0)" />
<rect x="476.5" y="568.5" width="41.0" height="43.0" rx="14.8" fill="url(#gBlueBot)" transform="rotate(3.0 497.0 590.0)" opacity="0.35"/>
<rect x="517.5" y="568.0" width="41.0" height="44.0" rx="14.8" fill="url(#gOoA2)" transform="rotate(-4.0 538.0 590.0)" />
<rect x="517.5" y="568.0" width="41.0" height="44.0" rx="14.8" fill="url(#gBlueBot)" transform="rotate(-4.0 538.0 590.0)" opacity="1"/>
<rect x="559.0" y="566.0" width="40.0" height="41.0" rx="14.4" fill="url(#gOoA2)" transform="rotate(-10.0 579.0 586.5)" />
<rect x="559.0" y="566.0" width="40.0" height="41.0" rx="14.4" fill="url(#gBlueBot)" transform="rotate(-10.0 579.0 586.5)" opacity="1"/>
<rect x="599.0" y="558.5" width="38.0" height="40.0" rx="13.7" fill="url(#gOoA2)" transform="rotate(-16.0 618.0 578.5)" />
<rect x="599.0" y="558.5" width="38.0" height="40.0" rx="13.7" fill="url(#gBlueBot)" transform="rotate(-16.0 618.0 578.5)" opacity="1"/>
<rect x="637.0" y="548.5" width="34.0" height="38.0" rx="12.2" fill="url(#gOoA2)" transform="rotate(-20.0 654.0 567.5)" />
<rect x="637.0" y="548.5" width="34.0" height="38.0" rx="12.2" fill="url(#gBlueBot)" transform="rotate(-20.0 654.0 567.5)" opacity="1"/>
<path d="M724.0 543.0 C727.5 541.8 736.5 539.2 745.0 536.0 C753.5 532.8 765.0 528.3 775.0 524.0 C785.0 519.7 795.8 514.2 805.0 510.0 C814.2 505.8 821.3 501.8 830.0 498.5 C838.7 495.2 848.3 493.0 857.0 490.5 C865.7 488.0 874.0 485.8 882.0 483.5 C890.0 481.2 901.2 477.7 905.0 476.5" fill="none" stroke="#5b3a93" stroke-width="13" stroke-linecap="round" stroke-linejoin="round" stroke-linecap="butt"/>
<path d="M726.0 549.0 C729.2 547.9 736.8 545.7 745.0 542.5 C753.2 539.3 765.0 534.4 775.0 530.0 C785.0 525.6 795.8 520.3 805.0 516.0 C814.2 511.7 821.3 507.6 830.0 504.0 C838.7 500.4 848.3 497.2 857.0 494.5 C865.7 491.8 874.0 490.1 882.0 488.0 C890.0 485.9 901.2 483.0 905.0 482.0" fill="none" stroke="#7a3079" stroke-width="5.5" stroke-linecap="round" stroke-linejoin="round" stroke-linecap="butt"/>
<circle cx="737.0" cy="535.0" r="14.0" fill="url(#gEmbA)" />
<circle cx="762.0" cy="524.0" r="13.0" fill="url(#gEmbA)" />
<circle cx="790.0" cy="511.0" r="13.0" fill="url(#gEmbA)" />
<circle cx="818.0" cy="498.0" r="12.0" fill="url(#gEmbA)" />
<circle cx="846.0" cy="488.0" r="12.0" fill="url(#gEmbA)" />
<circle cx="874.0" cy="481.0" r="12.0" fill="url(#gEmbA)" />
<circle cx="898.0" cy="476.0" r="13.0" fill="url(#gEmbA)" />
<circle cx="732.0" cy="517.0" r="18.0" fill="url(#gLil)" />
<circle cx="762.0" cy="501.0" r="18.0" fill="url(#gLil)" />
<circle cx="792.0" cy="486.0" r="17.0" fill="url(#gLil)" />
<circle cx="820.0" cy="473.0" r="16.0" fill="url(#gLil)" />
<circle cx="846.0" cy="467.0" r="15.0" fill="url(#gLil)" />
<circle cx="872.0" cy="462.0" r="15.0" fill="url(#gLil)" />
<circle cx="897.0" cy="455.0" r="14.0" fill="url(#gLil)" />
</g>
<circle cx="696" cy="527" r="3.6" fill="#7a6a3a" stroke="#d9c860" stroke-width="1.6"/>
<circle cx="682" cy="535" r="3.6" fill="#7a6a3a" stroke="#d9c860" stroke-width="1.6"/>
<circle cx="706" cy="536" r="3.6" fill="#7a6a3a" stroke="#d9c860" stroke-width="1.6"/>
<circle cx="696" cy="543" r="3.6" fill="#7a6a3a" stroke="#d9c860" stroke-width="1.6"/>
<circle cx="687" cy="551" r="3.6" fill="#7a6a3a" stroke="#d9c860" stroke-width="1.6"/>
<circle cx="709" cy="548" r="3.6" fill="#7a6a3a" stroke="#d9c860" stroke-width="1.6"/>
<circle cx="697" cy="557" r="3.6" fill="#7a6a3a" stroke="#d9c860" stroke-width="1.6"/>
<path d="M905 404 L850 408 M905 407 L848 420 M905 409 L858 428" stroke="#d2a85a" stroke-width="1.6" fill="none"/>
<circle cx="909" cy="406" r="7.5" fill="url(#gTip)" stroke="#6b6b60" stroke-width="1"/>
<path d="M376.0 522.0 C377.8 520.3 381.0 514.0 387.0 512.0 C393.0 510.0 401.5 509.7 412.0 510.0 C422.5 510.3 434.5 512.0 450.0 514.0 C465.5 516.0 486.7 519.2 505.0 522.0 C523.3 524.8 543.3 529.5 560.0 531.0 C576.7 532.5 589.2 532.5 605.0 531.0 C620.8 529.5 638.3 526.3 655.0 522.0 C671.7 517.7 688.3 511.5 705.0 505.0 C721.7 498.5 738.3 490.5 755.0 483.0 C771.7 475.5 792.8 465.8 805.0 460.0 C817.2 454.2 822.5 451.8 828.0 448.0 C833.5 444.2 835.2 441.0 838.0 437.0 C840.8 433.0 842.2 429.5 845.0 424.0 C847.8 418.5 851.8 408.7 855.0 404.0 C858.2 399.3 860.5 398.3 864.0 396.0 C867.5 393.7 870.8 391.5 876.0 390.0 C881.2 388.5 887.7 387.7 895.0 387.0 C902.3 386.3 911.7 385.7 920.0 386.0 C928.3 386.3 936.7 388.0 945.0 389.0 C953.3 390.0 961.7 390.7 970.0 392.0 C978.3 393.3 990.8 396.2 995.0 397.0 L995 452 C990.8 450.8 978.3 447.5 970.0 445.0 C961.7 442.5 952.3 438.7 945.0 437.0 C937.7 435.3 930.2 435.0 926.0 435.0 C921.8 435.0 921.8 435.0 920.0 437.0 C918.2 439.0 916.7 443.2 915.0 447.0 C913.3 450.8 912.3 456.2 910.0 460.0 C907.7 463.8 905.7 467.2 901.0 470.0 C896.3 472.8 889.3 474.7 882.0 477.0 C874.7 479.3 865.7 481.7 857.0 484.0 C848.3 486.3 838.7 487.8 830.0 491.0 C821.3 494.2 814.2 499.0 805.0 503.5 C795.8 508.0 785.0 513.6 775.0 518.0 C765.0 522.4 755.0 526.3 745.0 530.0 C735.0 533.7 724.2 536.8 715.0 540.0 C705.8 543.2 698.3 544.3 690.0 549.0 C681.7 553.7 675.0 563.5 665.0 568.0 C655.0 572.5 644.2 573.5 630.0 576.0 C615.8 578.5 600.8 580.9 580.0 583.0 C559.2 585.1 530.0 587.2 505.0 588.5 C480.0 589.8 447.5 590.9 430.0 591.0 C412.5 591.1 408.3 590.0 400.0 589.0 C391.7 588.0 385.8 587.0 380.0 585.0 C374.2 583.0 368.8 580.2 365.0 577.0 C361.2 573.8 358.3 567.8 357.0 566.0Z" fill="#bfe6ee" fill-opacity="0.55"/>
<path d="M376.0 522.0 C377.8 520.3 381.0 514.0 387.0 512.0 C393.0 510.0 401.5 509.7 412.0 510.0 C422.5 510.3 434.5 512.0 450.0 514.0 C465.5 516.0 486.7 519.2 505.0 522.0 C523.3 524.8 543.3 529.5 560.0 531.0 C576.7 532.5 589.2 532.5 605.0 531.0 C620.8 529.5 638.3 526.3 655.0 522.0 C671.7 517.7 688.3 511.5 705.0 505.0 C721.7 498.5 738.3 490.5 755.0 483.0 C771.7 475.5 792.8 465.8 805.0 460.0 C817.2 454.2 822.5 451.8 828.0 448.0 C833.5 444.2 835.2 441.0 838.0 437.0 C840.8 433.0 842.2 429.5 845.0 424.0 C847.8 418.5 851.8 408.7 855.0 404.0 C858.2 399.3 860.5 398.3 864.0 396.0 C867.5 393.7 870.8 391.5 876.0 390.0 C881.2 388.5 887.7 387.7 895.0 387.0 C902.3 386.3 911.7 385.7 920.0 386.0 C928.3 386.3 936.7 388.0 945.0 389.0 C953.3 390.0 961.7 390.7 970.0 392.0 C978.3 393.3 990.8 396.2 995.0 397.0" fill="none" stroke="#4a86c8" stroke-width="4.6" stroke-linecap="round" stroke-linejoin="round" stroke-opacity="0.9"/>
<path d="M505.0 522.0 C514.2 523.5 543.3 529.5 560.0 531.0 C576.7 532.5 589.2 532.5 605.0 531.0 C620.8 529.5 638.3 526.3 655.0 522.0 C671.7 517.7 688.3 511.5 705.0 505.0 C721.7 498.5 738.3 490.5 755.0 483.0 C771.7 475.5 792.8 465.8 805.0 460.0 C817.2 454.2 822.5 451.8 828.0 448.0 C833.5 444.2 835.2 441.0 838.0 437.0 C840.8 433.0 843.8 426.2 845.0 424.0" fill="none" stroke="#5157c2" stroke-width="4.4" stroke-linecap="round" stroke-linejoin="round" stroke-opacity="0.9"/>
<path d="M357.0 566.0 C358.3 567.8 361.2 573.8 365.0 577.0 C368.8 580.2 374.2 583.0 380.0 585.0 C385.8 587.0 391.7 588.0 400.0 589.0 C408.3 590.0 425.0 590.7 430.0 591.0" fill="none" stroke="#4a86c8" stroke-width="4.6" stroke-linecap="round" stroke-linejoin="round" />
<path d="M400.0 589.0 C405.0 589.3 412.5 591.1 430.0 591.0 C447.5 590.9 480.0 589.8 505.0 588.5 C530.0 587.2 559.2 585.1 580.0 583.0 C600.8 580.9 615.8 578.5 630.0 576.0 C644.2 573.5 655.0 572.5 665.0 568.0 C675.0 563.5 681.7 553.7 690.0 549.0 C698.3 544.3 705.8 543.2 715.0 540.0 C724.2 536.8 735.0 533.7 745.0 530.0 C755.0 526.3 765.0 522.4 775.0 518.0 C785.0 513.6 795.8 508.0 805.0 503.5 C814.2 499.0 821.3 494.2 830.0 491.0 C838.7 487.8 848.3 486.3 857.0 484.0 C865.7 481.7 874.7 479.3 882.0 477.0 C889.3 474.7 896.3 472.8 901.0 470.0 C905.7 467.2 907.7 463.8 910.0 460.0 C912.3 456.2 913.3 450.8 915.0 447.0 C916.7 443.2 918.2 439.0 920.0 437.0 C921.8 435.0 921.8 435.0 926.0 435.0 C930.2 435.0 937.7 435.3 945.0 437.0 C952.3 438.7 961.7 442.5 970.0 445.0 C978.3 447.5 990.8 450.8 995.0 452.0" fill="none" stroke="#4a50bd" stroke-width="6" stroke-linecap="round" stroke-linejoin="round" stroke-opacity="0.85"/>
<path d="M124.0 401.0 C130.3 401.5 149.3 400.8 162.0 404.0 C174.7 407.2 187.5 412.8 200.0 420.0 C212.5 427.2 224.5 437.5 237.0 447.0 C249.5 456.5 262.5 467.3 275.0 477.0 C287.5 486.7 299.5 496.2 312.0 505.0 C324.5 513.8 339.5 523.8 350.0 530.0 C360.5 536.2 366.7 538.3 375.0 542.0 C383.3 545.7 390.8 549.0 400.0 552.0 C409.2 555.0 416.7 557.8 430.0 560.0 C443.3 562.2 459.2 564.3 480.0 565.0 C500.8 565.7 530.0 565.7 555.0 564.0 C580.0 562.3 609.2 558.2 630.0 555.0 C650.8 551.8 663.3 549.2 680.0 545.0 C696.7 540.8 713.3 535.8 730.0 530.0 C746.7 524.2 763.3 517.5 780.0 510.0 C796.7 502.5 819.2 492.7 830.0 485.0 C840.8 477.3 840.0 470.3 845.0 464.0 C850.0 457.7 855.8 452.3 860.0 447.0 C864.2 441.7 866.3 436.3 870.0 432.0 C873.7 427.7 877.8 423.7 882.0 421.0 C886.2 418.3 890.8 417.2 895.0 416.0 C899.2 414.8 901.8 414.3 907.0 414.0 C912.2 413.7 919.7 413.5 926.0 414.0 C932.3 414.5 937.7 415.0 945.0 417.0 C952.3 419.0 959.7 421.3 970.0 426.0 C980.3 430.7 1000.8 441.8 1007.0 445.0" fill="none" stroke="#fff" stroke-width="4.4" stroke-linecap="round" stroke-linejoin="round" />
<path d="M920 440 L956 444 L956 499 L944 505 L925 505 L912 490 L916 465 Z" fill="#000"/>
<path d="M952 444 L1000 452 L1050 470 L1100 492 L1150 515 L1175 528 L1168 545 L1165 578 L1150 572 L1100 550 L1050 530 L1000 512 L952 497Z" fill="#000"/>
<path d="M976.0 405.0 C981.2 402.2 997.7 404.2 1007.0 405.0 C1016.3 405.8 1023.2 408.0 1032.0 410.0 C1040.8 412.0 1048.7 413.5 1060.0 417.0 C1071.3 420.5 1085.0 424.8 1100.0 431.0 C1115.0 437.2 1133.3 445.8 1150.0 454.0 C1166.7 462.2 1183.3 472.3 1200.0 480.0 C1216.7 487.7 1233.3 494.7 1250.0 500.0 C1266.7 505.3 1283.3 508.7 1300.0 512.0 C1316.7 515.3 1333.3 517.5 1350.0 520.0 C1366.7 522.5 1385.5 524.2 1400.0 527.0 C1414.5 529.8 1427.0 532.8 1437.0 537.0 C1447.0 541.2 1454.5 546.5 1460.0 552.0 C1465.5 557.5 1469.2 564.5 1470.0 570.0 C1470.8 575.5 1468.3 580.0 1465.0 585.0 C1461.7 590.0 1456.7 595.5 1450.0 600.0 C1443.3 604.5 1433.3 608.3 1425.0 612.0 C1416.7 615.7 1412.5 619.5 1400.0 622.0 C1387.5 624.5 1366.7 627.3 1350.0 627.0 C1333.3 626.7 1316.7 623.7 1300.0 620.0 C1283.3 616.3 1264.7 610.0 1250.0 605.0 C1235.3 600.0 1220.3 593.8 1212.0 590.0 C1203.7 586.2 1202.2 586.7 1200.0 582.0 C1197.8 577.3 1198.2 567.3 1199.0 562.0 C1199.8 556.7 1204.8 553.7 1205.0 550.0 C1205.2 546.3 1205.8 544.7 1200.0 540.0 C1194.2 535.3 1180.5 528.2 1170.0 522.0 C1159.5 515.8 1148.7 509.8 1137.0 503.0 C1125.3 496.2 1112.8 487.8 1100.0 481.0 C1087.2 474.2 1069.2 466.3 1060.0 462.0 C1050.8 457.7 1051.7 458.3 1045.0 455.0 C1038.3 451.7 1028.3 445.8 1020.0 442.0 C1011.7 438.2 1002.3 435.3 995.0 432.0 C987.7 428.7 979.2 426.5 976.0 422.0 C972.8 417.5 970.8 407.8 976.0 405.0Z" fill="#000"/>
<path d="M1277 561.5 Q1322 566 1368 575.6 Q1320 573 1277 561.5Z" fill="#d5eef3"/>
<rect x="950.0" y="447.0" width="38.0" height="50.0" rx="13.7" fill="url(#gEmb)" transform="rotate(12.0 969.0 472.0)" />
<ellipse cx="973.6" cy="485.5" rx="2.6" ry="1.5" fill="#f3e6f7" fill-opacity="0.75" transform="rotate(-35 973.6 485.5)"/>
<rect x="986.0" y="457.0" width="36.0" height="50.0" rx="13.0" fill="url(#gEmb)" transform="rotate(16.0 1004.0 482.0)" />
<ellipse cx="1008.3" cy="495.5" rx="2.6" ry="1.5" fill="#f3e6f7" fill-opacity="0.75" transform="rotate(-35 1008.3 495.5)"/>
<rect x="1019.0" y="468.0" width="30.0" height="48.0" rx="10.8" fill="url(#gEmb)" transform="rotate(20.0 1034.0 492.0)" />
<ellipse cx="1037.6" cy="505.0" rx="2.6" ry="1.5" fill="#f3e6f7" fill-opacity="0.75" transform="rotate(-35 1037.6 505.0)"/>
<rect x="1046.0" y="477.5" width="28.0" height="47.0" rx="10.1" fill="url(#gEmb)" transform="rotate(22.0 1060.0 501.0)" />
<ellipse cx="1063.4" cy="513.7" rx="2.6" ry="1.5" fill="#f3e6f7" fill-opacity="0.75" transform="rotate(-35 1063.4 513.7)"/>
<rect x="1071.0" y="487.5" width="28.0" height="47.0" rx="10.1" fill="url(#gEmb)" transform="rotate(24.0 1085.0 511.0)" />
<ellipse cx="1088.4" cy="523.7" rx="2.6" ry="1.5" fill="#f3e6f7" fill-opacity="0.75" transform="rotate(-35 1088.4 523.7)"/>
<rect x="1096.0" y="497.5" width="30.0" height="47.0" rx="10.8" fill="url(#gEmb)" transform="rotate(25.0 1111.0 521.0)" />
<ellipse cx="1114.6" cy="533.7" rx="2.6" ry="1.5" fill="#f3e6f7" fill-opacity="0.75" transform="rotate(-35 1114.6 533.7)"/>
<rect x="1123.0" y="512.0" width="40.0" height="48.0" rx="14.4" fill="url(#gEmb)" transform="rotate(26.0 1143.0 536.0)" />
<ellipse cx="1147.8" cy="549.0" rx="2.6" ry="1.5" fill="#f3e6f7" fill-opacity="0.75" transform="rotate(-35 1147.8 549.0)"/>
<path d="M1172 530 Q1184 524 1196 532 Q1204 540 1200 552 Q1202 568 1194 578 Q1182 584 1168 578 Q1162 568 1166 556 Q1164 540 1172 530Z" fill="#000"/>
<circle cx="1184" cy="536" r="3.4" fill="#c9782a" stroke="#e3c53a" stroke-width="2"/>
<circle cx="1196" cy="542" r="3.4" fill="#c9782a" stroke="#e3c53a" stroke-width="2"/>
<circle cx="1176" cy="547" r="3.4" fill="#c9782a" stroke="#e3c53a" stroke-width="2"/>
<circle cx="1187" cy="549" r="3.4" fill="#c9782a" stroke="#e3c53a" stroke-width="2"/>
<circle cx="1176" cy="558" r="3.4" fill="#c9782a" stroke="#e3c53a" stroke-width="2"/>
<circle cx="1193" cy="562" r="3.4" fill="#c9782a" stroke="#e3c53a" stroke-width="2"/>
<circle cx="1171" cy="569" r="3.4" fill="#c9782a" stroke="#e3c53a" stroke-width="2"/>
<circle cx="1184" cy="566" r="3.4" fill="#c9782a" stroke="#e3c53a" stroke-width="2"/>
<circle cx="995.0" cy="414.0" r="5.0" fill="url(#gGerm)" />
<circle cx="1010.0" cy="414.5" r="5.5" fill="url(#gGerm)" />
<circle cx="1000.0" cy="427.5" r="5.5" fill="url(#gGerm)" />
<circle cx="1014.0" cy="432.5" r="7.0" fill="url(#gGerm)" />
<ellipse cx="1013.6" cy="434.0" rx="2.4" ry="0.7" fill="#e6ebf7" fill-opacity="0.7" transform="rotate(-32 1013.6 434.0)"/>
<circle cx="1022.5" cy="418.0" r="6.0" fill="url(#gGerm)" />
<ellipse cx="1022.2" cy="419.3" rx="2.0" ry="0.6" fill="#e6ebf7" fill-opacity="0.7" transform="rotate(-32 1022.2 419.3)"/>
<circle cx="1035.0" cy="420.0" r="8.0" fill="url(#gGerm)" />
<ellipse cx="1034.6" cy="421.8" rx="2.7" ry="0.8" fill="#e6ebf7" fill-opacity="0.7" transform="rotate(-32 1034.6 421.8)"/>
<circle cx="1027.5" cy="437.5" r="8.0" fill="url(#gGerm)" />
<ellipse cx="1027.1" cy="439.3" rx="2.7" ry="0.8" fill="#e6ebf7" fill-opacity="0.7" transform="rotate(-32 1027.1 439.3)"/>
<circle cx="1044.0" cy="431.0" r="7.5" fill="url(#gGerm)" />
<ellipse cx="1043.6" cy="432.6" rx="2.6" ry="0.8" fill="#e6ebf7" fill-opacity="0.7" transform="rotate(-32 1043.6 432.6)"/>
<circle cx="1056.0" cy="429.0" r="8.0" fill="url(#gGerm)" />
<ellipse cx="1055.6" cy="430.8" rx="2.7" ry="0.8" fill="#e6ebf7" fill-opacity="0.7" transform="rotate(-32 1055.6 430.8)"/>
<circle cx="1047.5" cy="448.0" r="7.5" fill="url(#gGerm)" />
<ellipse cx="1047.1" cy="449.6" rx="2.6" ry="0.8" fill="#e6ebf7" fill-opacity="0.7" transform="rotate(-32 1047.1 449.6)"/>
<circle cx="1060.0" cy="457.0" r="7.0" fill="url(#gGerm)" />
<ellipse cx="1059.7" cy="458.5" rx="2.4" ry="0.7" fill="#e6ebf7" fill-opacity="0.7" transform="rotate(-32 1059.7 458.5)"/>
<circle cx="1066.0" cy="443.0" r="6.5" fill="url(#gGerm)" />
<ellipse cx="1065.7" cy="444.4" rx="2.2" ry="0.7" fill="#e6ebf7" fill-opacity="0.7" transform="rotate(-32 1065.7 444.4)"/>
<circle cx="1084.0" cy="443.0" r="8.0" fill="url(#gGerm)" />
<ellipse cx="1083.6" cy="444.8" rx="2.7" ry="0.8" fill="#e6ebf7" fill-opacity="0.7" transform="rotate(-32 1083.6 444.8)"/>
<circle cx="1076.0" cy="462.5" r="7.0" fill="url(#gGerm)" />
<ellipse cx="1075.7" cy="464.0" rx="2.4" ry="0.7" fill="#e6ebf7" fill-opacity="0.7" transform="rotate(-32 1075.7 464.0)"/>
<circle cx="1102.5" cy="454.0" r="8.5" fill="url(#gGerm)" />
<ellipse cx="1102.1" cy="455.9" rx="2.9" ry="0.9" fill="#e6ebf7" fill-opacity="0.7" transform="rotate(-32 1102.1 455.9)"/>
<circle cx="1092.5" cy="469.0" r="8.0" fill="url(#gGerm)" />
<ellipse cx="1092.1" cy="470.8" rx="2.7" ry="0.8" fill="#e6ebf7" fill-opacity="0.7" transform="rotate(-32 1092.1 470.8)"/>
<circle cx="1122.5" cy="465.0" r="8.5" fill="url(#gGerm)" />
<ellipse cx="1122.1" cy="466.9" rx="2.9" ry="0.9" fill="#e6ebf7" fill-opacity="0.7" transform="rotate(-32 1122.1 466.9)"/>
<circle cx="1142.5" cy="468.0" r="8.5" fill="url(#gGerm)" />
<ellipse cx="1142.1" cy="469.9" rx="2.9" ry="0.9" fill="#e6ebf7" fill-opacity="0.7" transform="rotate(-32 1142.1 469.9)"/>
<circle cx="1108.5" cy="479.0" r="8.5" fill="url(#gGerm)" />
<ellipse cx="1108.1" cy="480.9" rx="2.9" ry="0.9" fill="#e6ebf7" fill-opacity="0.7" transform="rotate(-32 1108.1 480.9)"/>
<circle cx="1126.0" cy="487.5" r="8.0" fill="url(#gGerm)" />
<ellipse cx="1125.6" cy="489.3" rx="2.7" ry="0.8" fill="#e6ebf7" fill-opacity="0.7" transform="rotate(-32 1125.6 489.3)"/>
<circle cx="1142.5" cy="494.5" r="8.5" fill="url(#gGerm)" />
<ellipse cx="1142.1" cy="496.4" rx="2.9" ry="0.9" fill="#e6ebf7" fill-opacity="0.7" transform="rotate(-32 1142.1 496.4)"/>
<circle cx="1158.0" cy="480.5" r="8.5" fill="url(#gGerm)" />
<ellipse cx="1157.6" cy="482.4" rx="2.9" ry="0.9" fill="#e6ebf7" fill-opacity="0.7" transform="rotate(-32 1157.6 482.4)"/>
<circle cx="1177.5" cy="480.0" r="8.5" fill="url(#gGerm)" />
<ellipse cx="1177.1" cy="481.9" rx="2.9" ry="0.9" fill="#e6ebf7" fill-opacity="0.7" transform="rotate(-32 1177.1 481.9)"/>
<circle cx="1160.5" cy="504.0" r="8.5" fill="url(#gGerm)" />
<ellipse cx="1160.1" cy="505.9" rx="2.9" ry="0.9" fill="#e6ebf7" fill-opacity="0.7" transform="rotate(-32 1160.1 505.9)"/>
<circle cx="1178.0" cy="510.5" r="8.5" fill="url(#gGerm)" />
<ellipse cx="1177.6" cy="512.4" rx="2.9" ry="0.9" fill="#e6ebf7" fill-opacity="0.7" transform="rotate(-32 1177.6 512.4)"/>
<circle cx="1192.0" cy="495.0" r="8.5" fill="url(#gGerm)" />
<ellipse cx="1191.6" cy="496.9" rx="2.9" ry="0.9" fill="#e6ebf7" fill-opacity="0.7" transform="rotate(-32 1191.6 496.9)"/>
<circle cx="1212.5" cy="497.5" r="8.5" fill="url(#gGerm)" />
<ellipse cx="1212.1" cy="499.4" rx="2.9" ry="0.9" fill="#e6ebf7" fill-opacity="0.7" transform="rotate(-32 1212.1 499.4)"/>
<circle cx="1195.5" cy="519.5" r="8.5" fill="url(#gGerm)" />
<ellipse cx="1195.1" cy="521.4" rx="2.9" ry="0.9" fill="#e6ebf7" fill-opacity="0.7" transform="rotate(-32 1195.1 521.4)"/>
<circle cx="1214.0" cy="522.0" r="8.5" fill="url(#gGerm)" />
<ellipse cx="1213.6" cy="523.9" rx="2.9" ry="0.9" fill="#e6ebf7" fill-opacity="0.7" transform="rotate(-32 1213.6 523.9)"/>
<circle cx="1229.0" cy="506.0" r="8.5" fill="url(#gGerm)" />
<ellipse cx="1228.6" cy="507.9" rx="2.9" ry="0.9" fill="#e6ebf7" fill-opacity="0.7" transform="rotate(-32 1228.6 507.9)"/>
<circle cx="1249.0" cy="515.0" r="10.0" fill="url(#gGerm)" />
<ellipse cx="1248.5" cy="517.2" rx="3.4" ry="1.0" fill="#e6ebf7" fill-opacity="0.7" transform="rotate(-32 1248.5 517.2)"/>
<circle cx="1270.0" cy="523.0" r="9.5" fill="url(#gGerm)" />
<ellipse cx="1269.5" cy="525.1" rx="3.2" ry="1.0" fill="#e6ebf7" fill-opacity="0.7" transform="rotate(-32 1269.5 525.1)"/>
<circle cx="1232.5" cy="534.0" r="9.0" fill="url(#gGerm)" />
<ellipse cx="1232.0" cy="536.0" rx="3.1" ry="0.9" fill="#e6ebf7" fill-opacity="0.7" transform="rotate(-32 1232.0 536.0)"/>
<circle cx="1254.0" cy="535.0" r="9.0" fill="url(#gGerm)" />
<ellipse cx="1253.5" cy="537.0" rx="3.1" ry="0.9" fill="#e6ebf7" fill-opacity="0.7" transform="rotate(-32 1253.5 537.0)"/>
<circle cx="1276.0" cy="544.0" r="10.0" fill="url(#gGerm)" />
<ellipse cx="1275.5" cy="546.2" rx="3.4" ry="1.0" fill="#e6ebf7" fill-opacity="0.7" transform="rotate(-32 1275.5 546.2)"/>
<circle cx="1290.0" cy="527.0" r="10.0" fill="url(#gGerm)" />
<ellipse cx="1289.5" cy="529.2" rx="3.4" ry="1.0" fill="#e6ebf7" fill-opacity="0.7" transform="rotate(-32 1289.5 529.2)"/>
<circle cx="1319.0" cy="530.5" r="10.0" fill="url(#gGerm)" />
<ellipse cx="1318.5" cy="532.7" rx="3.4" ry="1.0" fill="#e6ebf7" fill-opacity="0.7" transform="rotate(-32 1318.5 532.7)"/>
<circle cx="1342.0" cy="534.0" r="10.5" fill="url(#gGerm)" />
<ellipse cx="1341.5" cy="536.3" rx="3.6" ry="1.1" fill="#e6ebf7" fill-opacity="0.7" transform="rotate(-32 1341.5 536.3)"/>
<circle cx="1366.0" cy="535.5" r="10.5" fill="url(#gGerm)" />
<ellipse cx="1365.5" cy="537.8" rx="3.6" ry="1.1" fill="#e6ebf7" fill-opacity="0.7" transform="rotate(-32 1365.5 537.8)"/>
<circle cx="1387.5" cy="539.0" r="9.5" fill="url(#gGerm)" />
<ellipse cx="1387.0" cy="541.1" rx="3.2" ry="1.0" fill="#e6ebf7" fill-opacity="0.7" transform="rotate(-32 1387.0 541.1)"/>
<circle cx="1299.0" cy="547.5" r="10.0" fill="url(#gGerm)" />
<ellipse cx="1298.5" cy="549.7" rx="3.4" ry="1.0" fill="#e6ebf7" fill-opacity="0.7" transform="rotate(-32 1298.5 549.7)"/>
<circle cx="1322.0" cy="554.5" r="9.5" fill="url(#gGerm)" />
<ellipse cx="1321.5" cy="556.6" rx="3.2" ry="1.0" fill="#e6ebf7" fill-opacity="0.7" transform="rotate(-32 1321.5 556.6)"/>
<circle cx="1342.5" cy="555.5" r="10.5" fill="url(#gGerm)" />
<ellipse cx="1342.0" cy="557.8" rx="3.6" ry="1.1" fill="#e6ebf7" fill-opacity="0.7" transform="rotate(-32 1342.0 557.8)"/>
<circle cx="1367.0" cy="559.5" r="11.0" fill="url(#gGerm)" />
<ellipse cx="1366.5" cy="561.9" rx="3.7" ry="1.1" fill="#e6ebf7" fill-opacity="0.7" transform="rotate(-32 1366.5 561.9)"/>
<circle cx="1411.0" cy="548.0" r="13.0" fill="url(#gGerm)" />
<ellipse cx="1410.3" cy="550.9" rx="4.4" ry="1.3" fill="#e6ebf7" fill-opacity="0.7" transform="rotate(-32 1410.3 550.9)"/>
<circle cx="1397.0" cy="563.0" r="13.5" fill="url(#gGerm)" />
<ellipse cx="1396.3" cy="566.0" rx="4.6" ry="1.4" fill="#e6ebf7" fill-opacity="0.7" transform="rotate(-32 1396.3 566.0)"/>
<circle cx="1437.0" cy="558.0" r="13.5" fill="url(#gGerm)" />
<ellipse cx="1436.3" cy="561.0" rx="4.6" ry="1.4" fill="#e6ebf7" fill-opacity="0.7" transform="rotate(-32 1436.3 561.0)"/>
<circle cx="1451.0" cy="579.5" r="15.0" fill="url(#gGerm)" />
<ellipse cx="1450.2" cy="582.8" rx="5.1" ry="1.5" fill="#e6ebf7" fill-opacity="0.7" transform="rotate(-32 1450.2 582.8)"/>
<circle cx="1424.5" cy="589.5" r="15.5" fill="url(#gGerm)" />
<ellipse cx="1423.7" cy="592.9" rx="5.3" ry="1.6" fill="#e6ebf7" fill-opacity="0.7" transform="rotate(-32 1423.7 592.9)"/>
<rect x="1204.0" y="551.0" width="40.0" height="46.0" rx="15.1" fill="#4a9fd0" transform="rotate(18.0 1224.0 571.0)"/>
<rect x="1203.0" y="548.0" width="42.0" height="46.0" rx="15.1" fill="url(#gOoP)" transform="rotate(18.0 1224.0 571.0)" />
<rect x="1241.0" y="562.0" width="28.0" height="44.0" rx="10.8" fill="#4a9fd0" transform="rotate(14.0 1255.0 581.0)"/>
<rect x="1240.0" y="559.0" width="30.0" height="44.0" rx="10.8" fill="url(#gOoP)" transform="rotate(14.0 1255.0 581.0)" />
<rect x="1266.0" y="574.0" width="36.0" height="42.0" rx="13.7" fill="#4a9fd0" transform="rotate(10.0 1284.0 592.0)"/>
<rect x="1265.0" y="571.0" width="38.0" height="42.0" rx="13.7" fill="url(#gOoP)" transform="rotate(10.0 1284.0 592.0)" />
<rect x="1301.0" y="580.5" width="45.0" height="41.0" rx="14.8" fill="#4a9fd0" transform="rotate(3.0 1323.5 598.0)"/>
<rect x="1300.0" y="577.5" width="47.0" height="41.0" rx="14.8" fill="url(#gOoP)" transform="rotate(3.0 1323.5 598.0)" />
<rect x="1345.5" y="583.0" width="28.0" height="40.0" rx="10.8" fill="#4a9fd0" transform="rotate(-2.0 1359.5 600.0)"/>
<rect x="1344.5" y="580.0" width="30.0" height="40.0" rx="10.8" fill="url(#gOoP)" transform="rotate(-2.0 1359.5 600.0)" />
<rect x="1374.5" y="582.5" width="37.0" height="39.0" rx="14.0" fill="#4a9fd0" transform="rotate(-7.0 1393.0 599.0)"/>
<rect x="1373.5" y="579.5" width="39.0" height="39.0" rx="14.0" fill="url(#gOoP)" transform="rotate(-7.0 1393.0 599.0)" />
<path d="M976 407 Q1005 406 1036 411 L1036 413.5 Q1005 411 977 411.5Z M978 413.5 Q1012 419 1046 430 L1045 433 Q1010 424 977 418Z M975 420 Q996 430 1016 438 L1014.5 441 Q993 435 972 425Z" fill="#e9cc3c" stroke="#000" stroke-width="1.1"/>
<circle cx="969" cy="414" r="9" fill="url(#gTip)" stroke="#111" stroke-width="1.4"/>
<ellipse cx="357" cy="541" rx="14" ry="26" fill="none" stroke="#e0324d" stroke-width="4.6" transform="rotate(22 357 541)" stroke-opacity="0.55"/>
<path d="M368 517 A14 26 22 0 0 352 567" fill="none" stroke="#de2c48" stroke-width="6" stroke-linecap="round"/>
<circle cx="931" cy="470" r="4.5" fill="#f2f2f2"/>
</g>
<path d="M126.0 402.0 C126.3 401.0 126.5 398.7 128.0 396.0 C129.5 393.3 131.8 389.0 135.0 386.0 C138.2 383.0 142.8 380.0 147.0 378.0 C151.2 376.0 155.7 374.8 160.0 374.0 C164.3 373.2 168.8 373.2 173.0 373.5 C177.2 373.8 180.8 374.6 185.0 375.5 C189.2 376.4 193.8 377.6 198.0 379.0 C202.2 380.4 203.8 381.3 210.0 384.0 C216.2 386.7 226.7 390.7 235.0 395.0 C243.3 399.3 251.7 404.8 260.0 410.0 C268.3 415.2 276.7 420.2 285.0 426.0 C293.3 431.8 301.7 438.5 310.0 445.0 C318.3 451.5 328.3 460.0 335.0 465.0 C341.7 470.0 345.5 472.2 350.0 475.0 C354.5 477.8 353.7 478.5 362.0 482.0 C370.3 485.5 388.7 492.8 400.0 496.0 C411.3 499.2 416.7 500.2 430.0 501.0 C443.3 501.8 463.3 501.8 480.0 501.0 C496.7 500.2 516.7 497.7 530.0 496.0 C543.3 494.3 547.7 493.3 560.0 491.0 C572.3 488.7 589.2 485.7 604.0 482.0 C618.8 478.3 634.2 474.2 649.0 469.0 C663.8 463.8 678.2 457.3 693.0 451.0 C707.8 444.7 723.2 437.5 738.0 431.0 C752.8 424.5 769.8 417.2 782.0 412.0 C794.2 406.8 799.7 404.5 811.0 400.0 C822.3 395.5 835.2 388.5 850.0 385.0 C864.8 381.5 883.3 380.0 900.0 379.0 C916.7 378.0 933.3 378.0 950.0 379.0 C966.7 380.0 983.3 382.0 1000.0 385.0 C1016.7 388.0 1033.3 392.3 1050.0 397.0 C1066.7 401.7 1083.3 406.5 1100.0 413.0 C1116.7 419.5 1133.3 428.1 1150.0 436.0 C1166.7 443.9 1183.3 452.3 1200.0 460.5 C1216.7 468.7 1233.3 478.1 1250.0 485.0 C1266.7 491.9 1283.3 497.5 1300.0 502.0 C1316.7 506.5 1333.3 509.8 1350.0 512.0 C1366.7 514.2 1383.3 515.8 1400.0 515.0 C1416.7 514.2 1433.3 510.7 1450.0 507.0 C1466.7 503.3 1483.3 498.3 1500.0 493.0 C1516.7 487.7 1535.0 480.5 1550.0 475.0 C1565.0 469.5 1580.5 463.6 1590.0 460.0 C1599.5 456.4 1598.7 456.4 1607.0 453.3 C1615.3 450.2 1631.7 444.4 1640.0 441.5 C1648.3 438.6 1648.7 438.3 1657.0 435.8 C1665.3 433.3 1681.7 429.2 1690.0 426.7 C1698.3 424.2 1701.5 422.1 1707.0 420.8 C1712.5 419.5 1717.5 419.1 1723.0 418.8 C1728.5 418.4 1734.3 418.3 1740.0 418.8 C1745.7 419.2 1751.5 420.6 1757.0 421.7 C1762.5 422.8 1767.5 424.1 1773.0 425.4 C1778.5 426.6 1784.3 427.7 1790.0 429.2 C1795.7 430.7 1802.8 432.8 1807.0 434.2 C1811.2 435.6 1810.8 436.4 1815.0 437.5 C1819.2 438.6 1825.3 439.7 1832.0 440.6 C1838.7 441.5 1851.2 442.6 1855.0 443.0 C1851.2 443.2 1838.0 443.9 1832.0 444.2 C1826.0 444.5 1822.5 444.6 1819.0 445.0 C1815.5 445.4 1814.5 445.4 1811.0 446.7 C1807.5 447.9 1802.8 450.0 1798.0 452.5 C1793.2 455.0 1787.5 458.4 1782.0 461.7 C1776.5 465.0 1770.7 468.6 1765.0 472.5 C1759.3 476.4 1758.8 478.9 1748.0 485.0 C1737.2 491.1 1718.0 499.5 1700.0 509.0 C1682.0 518.5 1658.3 531.8 1640.0 542.0 C1621.7 552.2 1606.7 561.2 1590.0 570.0 C1573.3 578.8 1555.0 587.7 1540.0 595.0 C1525.0 602.3 1515.0 608.5 1500.0 614.0 C1485.0 619.5 1466.7 624.3 1450.0 628.0 C1433.3 631.7 1416.7 634.5 1400.0 636.0 C1383.3 637.5 1366.7 637.8 1350.0 637.0 C1333.3 636.2 1316.7 634.3 1300.0 631.0 C1283.3 627.7 1266.7 622.7 1250.0 617.0 C1233.3 611.3 1216.7 604.3 1200.0 597.0 C1183.3 589.7 1166.7 581.3 1150.0 573.0 C1133.3 564.7 1116.7 554.7 1100.0 547.0 C1083.3 539.3 1066.7 533.3 1050.0 527.0 C1033.3 520.7 1016.7 513.5 1000.0 509.0 C983.3 504.5 962.5 501.2 950.0 500.0 C937.5 498.8 933.3 502.0 925.0 502.0 C916.7 502.0 907.5 499.8 900.0 500.0 C892.5 500.2 892.2 500.0 880.0 503.0 C867.8 506.0 843.3 511.8 827.0 518.0 C810.7 524.2 796.8 532.9 782.0 540.0 C767.2 547.1 748.3 555.8 738.0 560.5 C727.7 565.2 728.8 564.6 720.0 568.3 C711.2 572.0 697.8 577.8 685.0 582.5 C672.2 587.2 656.8 592.5 643.0 596.7 C629.2 600.9 615.8 604.5 602.0 607.5 C588.2 610.5 572.0 613.1 560.0 614.5 C548.0 615.9 543.3 614.9 530.0 616.0 C516.7 617.1 496.7 620.2 480.0 621.0 C463.3 621.8 445.5 622.5 430.0 621.0 C414.5 619.5 400.3 615.5 387.0 612.0 C373.7 608.5 362.5 605.3 350.0 600.0 C337.5 594.7 324.5 588.0 312.0 580.0 C299.5 572.0 287.5 562.0 275.0 552.0 C262.5 542.0 248.2 530.3 237.0 520.0 C225.8 509.7 214.7 497.5 208.0 490.0 C201.3 482.5 200.8 480.0 197.0 475.0 C193.2 470.0 189.2 464.2 185.0 460.0 C180.8 455.8 176.2 453.0 172.0 450.0 C167.8 447.0 164.2 444.8 160.0 442.0 C155.8 439.2 151.2 436.7 147.0 433.0 C142.8 429.3 138.0 424.0 135.0 420.0 C132.0 416.0 130.5 412.0 129.0 409.0 C127.5 406.0 126.5 403.2 126.0 402.0Z" fill="none" stroke="#4a5b5d" stroke-width="6" stroke-linejoin="round"/>
<path d="M121 401.3 L134 402" stroke="#fff" stroke-width="4.2" fill="none"/>
<text transform="translate(801.79 142.70) scale(1.1067 1)" font-size="31.6">Midgut/ Intestine</text>
<text transform="translate(878.81 251.70) scale(1.0963 1)" font-size="31.6">Distal tip cell</text>
<text transform="translate(464.20 309.20) scale(1.1023 1)" font-size="31.6">Anterior arm of gonad</text>
<text transform="translate(975.78 309.40) scale(1.0595 1)" font-size="31.6">Distal gonad</text>
<text transform="translate(221.89 335.00) scale(1.0552 1)" font-size="31.6">Pharynx</text>
<text transform="translate(1760.40 279.00) scale(1.0620 1)" font-size="31.6">Tail</text>
<text transform="translate(1200.73 401.20) scale(1.0713 1)" font-size="31.6">Germ cells</text>
<text transform="translate(-0.63 568.50) scale(1.0305 1)" font-size="31.6">Corpus</text>
<text transform="translate(70.89 630.00) scale(1.0574 1)" font-size="31.6">Isthmus</text>
<text transform="translate(129.20 683.00) scale(1.0901 1)" font-size="31.6">Terminal bulb</text>
<text transform="translate(441.31 693.30) scale(1.0931 1)" font-size="31.6">Lumen of intestine</text>
<text transform="translate(301.44 748.30) scale(1.0824 1)" font-size="31.6">Pharyngeal-intestinal valve</text>
<text transform="translate(767.72 588.50) scale(1.0913 1)" font-size="31.6">Uterus</text>
<text transform="translate(778.10 657.30) scale(1.0244 1)" font-size="31.6">Vulva</text>
<text transform="translate(943.58 592.70) scale(1.0579 1)" font-size="31.6">Embryos</text>
<text transform="translate(968.05 667.70) scale(1.0473 1)" font-size="31.6">Spermatheca</text>
<text transform="translate(1218.15 713.10) scale(1.0518 1)" font-size="31.6">Oocytes</text>
<text transform="translate(1042.44 807.60) scale(1.0790 1)" font-size="31.6">Posterior arm of gonad</text>
<text transform="translate(1677.41 644.00) scale(1.0460 1)" font-size="31.6">Rectum &amp; anus</text>
<text transform="translate(874.69 970.00) scale(1.2571 1)" font-size="54.3">~</text>
<text transform="translate(919.13 970.00) scale(1.0417 1)" font-size="54.3">1</text>
<text transform="translate(954.35 970.00) scale(1.1492 1)" font-size="54.3">mm</text>
<path d="M387 303 L387 277" fill="none" stroke="#000" stroke-width="1.3" stroke-linejoin="miter" />
<path d="M387.0 277.0 C404.7 272.0 453.0 256.5 493.0 247.0 C533.0 237.5 582.5 227.3 627.0 220.0 C671.5 212.7 714.5 207.2 760.0 203.0 C805.5 198.8 855.5 196.0 900.0 195.0 C944.5 194.0 983.7 195.7 1027.0 197.0 C1070.3 198.3 1115.7 199.7 1160.0 203.0 C1204.3 206.3 1248.5 212.0 1293.0 217.0 C1337.5 222.0 1378.0 226.7 1427.0 233.0 C1476.0 239.3 1560.3 251.3 1587.0 255.0" fill="none" stroke="#000" stroke-width="1.3" stroke-linejoin="miter" />
<path d="M1587 255 L1587 272" fill="none" stroke="#000" stroke-width="1.3" stroke-linejoin="miter" />
<path d="M901 169 L901 195" fill="none" stroke="#000" stroke-width="1.3" stroke-linejoin="miter" />
<path d="M141 358 L161 332 L381 471 L375 481" fill="none" stroke="#000" stroke-width="1.3" stroke-linejoin="miter" />
<path d="M282 358 L271 399" fill="none" stroke="#000" stroke-width="1.3" stroke-linejoin="miter" />
<path d="M88 443 L51 473 L152 568 L186 536" fill="none" stroke="#000" stroke-width="1.3" stroke-linejoin="miter" />
<path d="M93 516 L71 542" fill="none" stroke="#000" stroke-width="1.3" stroke-linejoin="miter" />
<path d="M189 606 L267.2 530.4" fill="none" stroke="#000" stroke-width="1.3" stroke-linejoin="miter"/>
<path d="M278.0 520.0 L269.4 535.6 L262.2 528.1 Z" fill="#000"/>
<path d="M282 644 L308.5 576.0" fill="none" stroke="#000" stroke-width="1.3" stroke-linejoin="miter"/>
<path d="M314.0 562.0 L312.7 579.7 L303.0 575.9 Z" fill="#000"/>
<path d="M365 709 L350.7 580.9" fill="none" stroke="#000" stroke-width="1.3" stroke-linejoin="miter"/>
<path d="M349.0 566.0 L356.1 582.3 L345.7 583.5 Z" fill="#000"/>
<path d="M441 656 L403.2 573.6" fill="none" stroke="#000" stroke-width="1.3" stroke-linejoin="miter"/>
<path d="M397.0 560.0 L408.8 573.3 L399.4 577.6 Z" fill="#000"/>
<path d="M440 487 L443 472" fill="none" stroke="#000" stroke-width="1.3" stroke-linejoin="miter" />
<path d="M443.0 472.0 C454.7 470.5 490.2 467.2 513.0 463.0 C535.8 458.8 557.7 455.3 580.0 447.0 C602.3 438.7 624.8 424.7 647.0 413.0 C669.2 401.3 690.8 387.0 713.0 377.0 C735.2 367.0 757.7 358.3 780.0 353.0 C802.3 347.7 824.3 346.3 847.0 345.0 C869.7 343.7 904.5 345.0 916.0 345.0" fill="none" stroke="#000" stroke-width="1.3" stroke-linejoin="miter" />
<path d="M916 345 L916 358" fill="none" stroke="#000" stroke-width="1.3" stroke-linejoin="miter" />
<path d="M613 336 L647 413" fill="none" stroke="#000" stroke-width="1.3" stroke-linejoin="miter" />
<path d="M960 353 L963 343" fill="none" stroke="#000" stroke-width="1.3" stroke-linejoin="miter" />
<path d="M963.0 343.0 C970.8 343.3 993.8 343.8 1010.0 345.0 C1026.2 346.2 1051.7 349.2 1060.0 350.0" fill="none" stroke="#000" stroke-width="1.3" stroke-linejoin="miter" />
<path d="M1060 350 L1060 357" fill="none" stroke="#000" stroke-width="1.3" stroke-linejoin="miter" />
<path d="M1010 345 L1011 335" fill="none" stroke="#000" stroke-width="1.3" stroke-linejoin="miter" />
<path d="M929 287 L957.5 388.6" fill="none" stroke="#000" stroke-width="1.3" stroke-linejoin="miter"/>
<path d="M961.5 403.0 L951.9 388.0 L961.9 385.2 Z" fill="#000"/>
<path d="M1197 411 L1139.0 432.7" fill="none" stroke="#000" stroke-width="1.3" stroke-linejoin="miter"/>
<path d="M1125.0 438.0 L1139.1 427.2 L1142.7 436.9 Z" fill="#000"/>
<path d="M1197 411 L1167.7 439.5" fill="none" stroke="#000" stroke-width="1.3" stroke-linejoin="miter"/>
<path d="M1157.0 450.0 L1165.5 434.4 L1172.8 441.9 Z" fill="#000"/>
<path d="M1796 291 L1825.3 405.5" fill="none" stroke="#000" stroke-width="1.3" stroke-linejoin="miter"/>
<path d="M1829.0 420.0 L1819.7 404.8 L1829.8 402.2 Z" fill="#000"/>
<path d="M1642 570 L1652 594 L1735 554 L1719 537" fill="none" stroke="#000" stroke-width="1.3" stroke-linejoin="miter" />
<path d="M1688 577 L1703 604" fill="none" stroke="#000" stroke-width="1.3" stroke-linejoin="miter" />
<path d="M930 471 L913 491" stroke="#fff" stroke-width="1.6" fill="none"/>
<path d="M911 493 L850 566" fill="none" stroke="#000" stroke-width="1.3" stroke-linejoin="miter" />
<path d="M844 635 L918.7 521.5" fill="none" stroke="#000" stroke-width="1.3" stroke-linejoin="miter"/>
<path d="M927.0 509.0 L922.0 526.1 L913.3 520.3 Z" fill="#000"/>
<path d="M1006 567 L1004.5 525.0" fill="none" stroke="#000" stroke-width="1.3" stroke-linejoin="miter"/>
<path d="M1004.0 510.0 L1009.8 526.8 L999.4 527.2 Z" fill="#000"/>
<path d="M1006 567 L1038.0 537.2" fill="none" stroke="#000" stroke-width="1.3" stroke-linejoin="miter"/>
<path d="M1049.0 527.0 L1040.1 542.4 L1033.0 534.8 Z" fill="#000"/>
<path d="M1144 586 L1130 607 L1174 624 L1182 607" fill="none" stroke="#000" stroke-width="1.3" stroke-linejoin="miter" />
<path d="M1150 617 L1117 641" fill="none" stroke="#000" stroke-width="1.3" stroke-linejoin="miter" />
<path d="M1291 677 L1284.4 636.8" fill="none" stroke="#000" stroke-width="1.3" stroke-linejoin="miter"/>
<path d="M1282.0 622.0 L1289.9 637.9 L1279.6 639.6 Z" fill="#000"/>
<path d="M1291 677 L1304.7 641.0" fill="none" stroke="#000" stroke-width="1.3" stroke-linejoin="miter"/>
<path d="M1310.0 627.0 L1308.8 644.7 L1299.1 641.0 Z" fill="#000"/>
<path d="M936 662 L934 687" fill="none" stroke="#000" stroke-width="1.3" stroke-linejoin="miter" />
<path d="M934.0 687.0 C948.3 687.6 994.0 688.5 1020.0 690.4 C1046.0 692.3 1063.0 694.6 1090.0 698.6 C1117.0 702.6 1154.7 709.3 1182.0 714.5 C1209.3 719.7 1234.2 726.5 1254.0 730.0 C1273.8 733.5 1287.3 734.5 1301.0 735.6 C1314.7 736.7 1324.3 737.1 1336.0 736.6 C1347.7 736.1 1357.3 735.4 1371.0 732.6 C1384.7 729.8 1406.1 723.8 1418.0 719.7 C1429.9 715.6 1438.4 710.0 1442.5 708.0" fill="none" stroke="#000" stroke-width="1.3" stroke-linejoin="miter" />
<path d="M1442.5 708 L1442.5 677.5" fill="none" stroke="#000" stroke-width="1.3" stroke-linejoin="miter" />
<path d="M1182 714.5 L1180.5 768.4" fill="none" stroke="#000" stroke-width="1.3" stroke-linejoin="miter" />
<rect x="165" y="862.5" width="1688" height="9.1" fill="#000"/>
<rect x="161.7" y="831" width="6.1" height="82.6" fill="#000"/>
<rect x="1849.4" y="836.3" width="6.4" height="82.8" fill="#000"/>
</svg></body></html>
